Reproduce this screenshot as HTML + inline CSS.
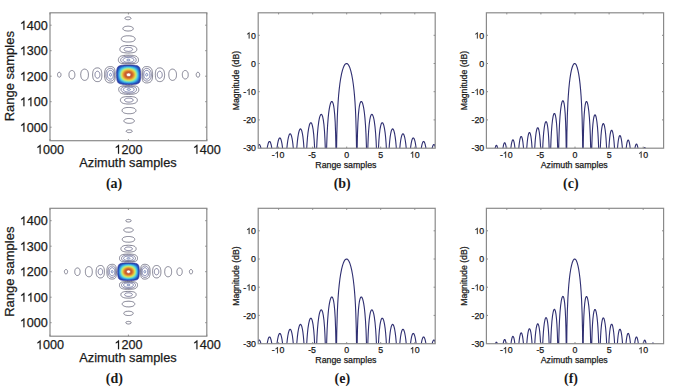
<!DOCTYPE html>
<html><head><meta charset="utf-8"><title>Figure</title>
<style>
html,body{margin:0;padding:0;background:#fff;}
body{width:685px;height:387px;overflow:hidden;}
svg{display:block;font-family:"Liberation Sans",sans-serif;}
.t{stroke:#1a1a1a;stroke-width:0.25px;}
.t path{stroke-width:0.12px;vector-effect:non-scaling-stroke;}
</style></head><body>
<svg width="685" height="387" viewBox="0 0 685 387">
<rect width="685" height="387" fill="#fff"/>
<g fill="none">
<path d="M133.4 84.4 132 84.5 130.6 84.5 129 84.5 127.4 84.5 126 84.5 124.6 84.4 123.4 84.4 122.4 84.3 121.6 84.1 120.8 84 120.2 83.8 119.6 83.6 119.2 83.5 118.8 83.2 118.4 82.9 118.1 82.6 117.9 82.4 117.7 82 117.6 81.8 117.4 81.4 117.3 81 117.1 80.6 117 80 116.9 79.4 116.8 78.2 116.6 76.6 116.6 74.8 116.6 73.2 116.6 71.8 116.7 70.6 116.9 69.6 117 69 117.1 68.6 117.3 68 117.5 67.6 117.6 67.3 117.8 67 118 66.8 118.2 66.6 118.4 66.4 118.7 66.2 119 66 119.4 65.9 119.8 65.7 120.2 65.6 120.8 65.5 121.4 65.3 122.2 65.2 123 65.2 124 65.1 126 65 128.6 65 131 65 132.8 65.1 134.2 65.2 135 65.3 135.6 65.4 136.2 65.5 136.6 65.5 137 65.7 137.4 65.8 137.8 65.9 138.2 66.2 138.6 66.4 138.8 66.6 139 66.8 139.2 67 139.5 67.4 139.7 67.8 139.9 68.4 140.1 69 140.2 69.6 140.3 70.4 140.5 71.4 140.5 72.4 140.6 73.8 140.6 75.2 140.6 76.6 140.6 77.8 140.5 78.8 140.3 79.8 140.2 80.6 140 81.2 139.9 81.6 139.7 82 139.4 82.4 139.3 82.6 139.1 82.8 138.8 83.1 138.4 83.3 138 83.6 137.6 83.7 137.2 83.8 136.8 84 136.2 84.1 135.6 84.2 135 84.3 134.2 84.3 133.4 84.4Z" fill="#2240a8"/>
<path d="M131 84 129.8 84 128.6 84.1 127.4 84 126.2 84 125.2 83.9 124.2 83.8 123.2 83.7 122.4 83.6 121.6 83.4 121 83.2 120.4 82.9 120 82.7 119.6 82.4 119.2 82.1 118.9 81.8 118.6 81.4 118.4 81.1 118.2 80.8 118 80.4 117.9 80 117.8 79.6 117.6 79 117.4 78 117.3 76.8 117.2 75.4 117.2 74 117.2 72.6 117.3 71.6 117.5 70.6 117.7 69.8 117.8 69.4 118 69 118.3 68.4 118.5 68 118.7 67.8 119 67.4 119.3 67.2 119.6 67 120 66.7 120.4 66.5 120.8 66.4 121.4 66.2 121.8 66 122.4 65.9 123 65.8 123.8 65.7 124.6 65.6 125.6 65.5 126.6 65.5 127.6 65.5 129.6 65.5 130.6 65.5 131.6 65.5 133 65.7 134.2 65.8 135.2 66 135.8 66.2 136.2 66.3 136.6 66.5 137 66.7 137.4 66.9 137.6 67.1 138 67.4 138.2 67.6 138.4 67.8 138.7 68.2 138.9 68.6 139.2 69.2 139.4 69.8 139.6 70.6 139.8 71.4 139.9 72.2 140 73.2 140 74.2 140 75.4 140 76.4 139.9 77.4 139.8 78.2 139.7 79 139.5 79.6 139.4 80.2 139.1 80.8 138.9 81.2 138.6 81.6 138.4 81.9 138 82.2 137.8 82.4 137.4 82.7 137 82.9 136.6 83.1 136 83.3 135.4 83.5 134.8 83.6 134.2 83.7 133.6 83.8 132.8 83.9 132 83.9 131 84Z" fill="#2558bd"/>
<path d="M129.2 83.6 128 83.6 127 83.6 126 83.5 125 83.4 124.2 83.3 123.4 83.1 122.6 82.9 122 82.8 121.4 82.5 121 82.3 120.4 82 120 81.7 119.7 81.4 119.4 81 119 80.5 118.7 80 118.5 79.6 118.4 79.2 118.1 78.4 118.1 78 117.9 77.4 117.9 76.8 117.8 76.2 117.7 75 117.7 73.8 117.8 73.2 117.8 72.6 118 71.6 118.1 70.8 118.3 70.4 118.4 70 118.7 69.4 118.8 69.1 119 68.8 119.2 68.5 119.4 68.3 119.7 68 119.9 67.8 120.4 67.4 121 67.1 121.4 66.9 122 66.7 122.4 66.6 123 66.4 123.6 66.3 124.4 66.1 125 66.1 125.8 66 126.6 65.9 127.6 65.9 128.4 65.9 129.4 65.9 131 66 131.8 66.1 132.6 66.1 133.2 66.2 133.8 66.4 134.4 66.5 134.8 66.6 135.2 66.7 135.6 66.9 136 67.1 136.4 67.3 136.8 67.5 137 67.7 137.4 68 137.6 68.2 137.8 68.4 138.1 68.8 138.3 69.2 138.5 69.6 138.8 70.2 139 70.8 139.1 71.4 139.3 72.2 139.4 73 139.4 73.8 139.5 74.6 139.5 75.6 139.4 76.4 139.3 77.2 139.2 78 139.1 78.6 138.9 79.2 138.7 79.8 138.5 80.2 138.2 80.7 138 81 137.6 81.4 137.4 81.6 137 81.9 136.6 82.2 136.2 82.4 135.8 82.6 135.2 82.8 134.6 83 134 83.1 133.4 83.3 132.6 83.4 131.8 83.5 131 83.5 130.2 83.6 129.2 83.6Z" fill="#2a76d0"/>
<path d="M131.6 83 130.6 83.1 129.6 83.2 128.4 83.2 127.4 83.1 126.4 83.1 125.4 83 124.6 82.9 123.8 82.7 123 82.5 122.4 82.3 121.8 82 121.4 81.8 121.1 81.6 120.8 81.4 120.4 81.1 120 80.6 119.7 80.2 119.3 79.6 119.1 79.2 118.9 78.8 118.8 78.4 118.7 78 118.5 77.2 118.3 76.2 118.3 75.2 118.3 74.2 118.3 73.2 118.4 72.2 118.6 71.4 118.7 71 118.9 70.6 119.1 70 119.5 69.4 119.8 68.9 120 68.7 120.3 68.4 120.8 68 121.2 67.7 121.6 67.5 122 67.3 122.4 67.2 122.8 67 123.4 66.9 124 66.7 124.6 66.6 125.2 66.5 126 66.4 127.4 66.3 128.2 66.3 129 66.3 130.4 66.4 131.6 66.5 132.2 66.6 132.8 66.7 133.8 66.9 134.4 67.1 134.8 67.2 135.2 67.4 135.6 67.6 136 67.8 136.4 68.1 136.7 68.4 137 68.6 137.2 68.9 137.5 69.2 137.7 69.6 138 70.1 138.2 70.6 138.4 71.2 138.6 71.8 138.7 72.4 138.8 73 138.9 73.8 138.9 74.6 138.9 75.4 138.9 76.2 138.8 76.8 138.7 77.4 138.6 78 138.4 78.6 138.2 79.2 138 79.6 137.8 80 137.5 80.4 137.2 80.8 137 81 136.6 81.3 136.2 81.6 135.9 81.8 135.6 82 135 82.2 134.6 82.4 134 82.6 133.4 82.7 132.8 82.8 131.6 83Z" fill="#3294dd"/>
<path d="M131.2 82.6 130.4 82.7 129.4 82.7 128.4 82.8 127.6 82.7 126.6 82.7 125.8 82.6 125 82.4 124.2 82.3 123.4 82 122.8 81.8 122.3 81.6 121.8 81.3 121.3 81 120.9 80.6 120.5 80.2 120.1 79.8 119.8 79.2 119.5 78.6 119.3 78.2 119.2 77.8 119 77 118.9 76.2 118.8 75.2 118.8 74.2 118.8 73.2 119 72.4 119.2 71.6 119.3 71.2 119.4 70.8 119.7 70.2 120 69.8 120.1 69.6 120.4 69.2 120.8 68.8 121.1 68.6 121.4 68.3 121.8 68.1 122.2 67.9 122.6 67.7 123 67.5 123.4 67.4 124 67.2 124.6 67.1 125.2 67 125.8 66.9 126.4 66.8 127 66.8 127.8 66.8 128.4 66.7 129.2 66.7 130 66.8 130.6 66.8 131.2 66.9 131.8 67 132.8 67.2 133.4 67.3 133.8 67.5 134.2 67.6 134.7 67.8 135 68 135.4 68.2 135.7 68.4 136 68.6 136.2 68.8 136.6 69.2 136.8 69.4 137.1 69.8 137.4 70.2 137.7 70.8 137.8 71.2 138 71.8 138.2 72.4 138.3 73 138.4 73.6 138.4 74.2 138.4 75 138.4 75.6 138.4 76.2 138.3 76.8 138.2 77.4 138 78 137.8 78.6 137.6 79 137.4 79.4 137.2 79.7 137 80 136.7 80.4 136.4 80.7 136 81 135.7 81.2 135.4 81.4 135 81.6 134.6 81.8 134.1 82 133.6 82.2 133 82.3 132.4 82.4 131.8 82.5 131.2 82.6Z" fill="#40b2e5"/>
<path d="M131 82.2 130.2 82.3 129.2 82.3 128.2 82.3 127.4 82.3 126.6 82.2 125.8 82.1 125 82 124.3 81.8 123.6 81.6 123 81.3 122.4 81 122 80.8 121.5 80.4 121.1 80 120.7 79.6 120.4 79.2 120.1 78.6 119.8 78 119.6 77.4 119.4 76.6 119.3 75.8 119.3 75 119.3 74.4 119.3 74 119.4 73.2 119.5 72.4 119.7 71.8 119.9 71.2 120.1 70.8 120.2 70.6 120.6 70 120.8 69.7 121 69.5 121.3 69.2 121.5 69 122 68.6 122.4 68.4 122.8 68.2 123.2 68 123.6 67.9 124 67.7 124.6 67.6 125.6 67.4 126.2 67.3 126.8 67.2 128 67.2 128.8 67.1 129.4 67.2 130.6 67.3 131.6 67.4 132.6 67.6 133.2 67.8 133.6 67.9 134 68.1 134.4 68.3 135 68.6 135.3 68.8 135.6 69 136 69.4 136.2 69.6 136.4 69.8 136.7 70.2 136.9 70.6 137.1 71 137.3 71.4 137.5 72 137.6 72.4 137.8 73 137.9 73.6 137.9 74.2 137.9 74.8 137.9 75.4 137.9 76 137.8 76.6 137.7 77.2 137.6 77.6 137.4 78.1 137.2 78.6 137 79 136.7 79.4 136.4 79.8 136.2 80 136 80.2 135.6 80.6 135.3 80.8 135 81 134.6 81.2 134.2 81.4 133.7 81.6 133.2 81.8 132.8 81.9 132.2 82 131.6 82.1 131 82.2Z" fill="#54c9dd"/>
<path d="M130.8 81.8 130 81.9 129.2 81.9 128.4 82 127.6 81.9 126.8 81.9 126 81.7 125.2 81.6 124.6 81.4 124 81.2 123.4 81 122.8 80.7 122.4 80.4 122 80.1 121.6 79.7 121.2 79.3 120.8 78.8 120.5 78.2 120.3 77.6 120.1 77 120 76.6 119.9 76.2 119.8 75.4 119.7 74.6 119.8 73.8 119.9 73.2 120 72.6 120.2 72 120.4 71.4 120.7 70.8 121 70.3 121.2 70.1 121.5 69.8 121.9 69.4 122.4 69 122.8 68.8 123.2 68.6 123.6 68.4 124 68.2 124.8 68 125.2 67.9 125.8 67.8 126.8 67.6 127.4 67.6 128 67.6 128.6 67.5 129.2 67.6 129.8 67.6 130.4 67.6 131.4 67.8 132 67.9 132.4 68 133.2 68.3 133.6 68.4 134 68.6 134.3 68.8 134.7 69 135.2 69.4 135.4 69.6 135.8 70 136 70.2 136.3 70.6 136.5 71 136.7 71.4 136.9 71.8 137.1 72.2 137.2 72.6 137.3 73.2 137.4 73.6 137.4 74.2 137.5 74.8 137.4 75.4 137.4 76 137.3 76.4 137.2 77 137.1 77.4 136.9 77.8 136.8 78.2 136.6 78.6 136.3 79 136 79.4 135.8 79.6 135.6 79.8 135.2 80.2 134.9 80.4 134.6 80.6 134.2 80.8 133.8 81 133.4 81.2 133 81.3 132.6 81.5 132 81.6 131.4 81.7 130.8 81.8Z" fill="#6cdaca"/>
<path d="M130.8 81.4 130.2 81.5 129.4 81.5 128.6 81.6 127.8 81.5 127 81.5 126.4 81.4 125.6 81.2 125 81.1 124.4 80.9 123.8 80.6 123.4 80.4 122.8 80.1 122.4 79.8 122 79.4 121.6 79 121.3 78.6 121 78 120.7 77.4 120.5 76.8 120.4 76.2 120.3 75.6 120.2 74.8 120.3 74 120.3 73.4 120.5 72.8 120.6 72.2 120.9 71.6 121.2 71 121.4 70.7 121.6 70.4 122 70 122.4 69.7 122.8 69.4 123.2 69.1 123.6 68.9 124.3 68.6 124.8 68.4 125.2 68.3 125.6 68.2 126.2 68.1 127.2 68 128.2 67.9 128.8 67.9 129.4 68 130.4 68.1 131.4 68.2 132.2 68.4 133 68.7 133.4 68.9 133.8 69.1 134.4 69.4 134.6 69.6 135 69.9 135.3 70.2 135.5 70.4 135.6 70.6 135.9 71 136.2 71.4 136.4 71.8 136.5 72.2 136.6 72.6 136.8 73 136.8 73.4 136.9 73.8 137 74.4 137 75 136.9 75.4 136.9 76 136.8 76.4 136.7 76.8 136.6 77.2 136.5 77.6 136.3 78 135.9 78.6 135.6 79 135.4 79.3 135.1 79.6 134.9 79.8 134.6 80 134.2 80.3 133.8 80.5 133.4 80.7 133 80.9 132.6 81 131.8 81.2 131.4 81.3 130.8 81.4Z" fill="#8ee4a8"/>
<path d="M130.6 81 130 81.1 129.2 81.2 128.4 81.2 127.8 81.1 127 81.1 126.4 81 125.8 80.8 125.2 80.7 124.6 80.5 124.2 80.3 123.6 80 123.2 79.7 122.8 79.4 122.3 79 122 78.6 121.7 78.2 121.4 77.7 121.2 77.2 121 76.6 120.8 76 120.8 75.4 120.7 75 120.7 74.6 120.8 74 120.8 73.4 121 72.8 121.2 72.2 121.4 71.7 121.7 71.2 122 70.8 122.4 70.3 122.8 70 123.3 69.6 123.7 69.4 124 69.2 124.4 69.1 124.8 68.9 125.6 68.7 126.4 68.5 127.4 68.4 128.4 68.3 129.4 68.4 130.4 68.5 131 68.6 131.4 68.7 132.2 68.9 132.6 69 133 69.2 133.6 69.5 134.2 69.9 134.6 70.2 134.8 70.4 135.2 70.9 135.6 71.4 135.9 72 136 72.4 136.2 72.9 136.3 73.4 136.4 73.8 136.5 74.2 136.5 74.6 136.5 75 136.5 75.4 136.4 75.8 136.3 76.2 136.3 76.6 136.1 77 136 77.4 135.8 77.8 135.6 78.2 135.4 78.4 135.2 78.7 135 79 134.8 79.2 134.4 79.5 134 79.8 133.8 79.9 133.2 80.3 132.8 80.4 132.4 80.6 131.6 80.8 131.2 80.9 130.6 81Z" fill="#b0ea86"/>
<path d="M130.6 80.6 130 80.7 129.4 80.7 128.8 80.8 128 80.7 127.4 80.7 126.8 80.6 126.2 80.5 125.6 80.3 125.2 80.2 124.6 80 124 79.7 123.6 79.4 123.2 79.1 122.8 78.8 122.5 78.4 122.2 78 121.9 77.6 121.7 77 121.5 76.6 121.3 76 121.3 75.4 121.2 74.8 121.2 74.2 121.3 73.6 121.4 73 121.6 72.6 121.8 72 122 71.6 122.4 71.1 122.8 70.7 123.2 70.3 123.6 70 123.9 69.8 124.3 69.6 125 69.3 125.4 69.2 125.8 69.1 126.6 68.9 127.4 68.8 127.8 68.8 128.4 68.7 129.4 68.8 130.2 68.9 131 69 131.8 69.2 132.2 69.4 132.6 69.5 133.1 69.8 133.5 70 133.8 70.2 134.2 70.6 134.6 71 134.8 71.2 135.1 71.6 135.2 71.8 135.4 72.2 135.6 72.6 135.7 73 135.9 73.6 135.9 74 136 74.4 136 74.8 136 75.2 135.9 75.6 135.9 76 135.8 76.4 135.7 76.8 135.5 77.2 135.4 77.5 135.1 78 134.8 78.4 134.6 78.6 134.2 79 134 79.2 133.6 79.5 133 79.8 132.6 80 132.2 80.2 131.8 80.3 131.4 80.4 130.6 80.6Z" fill="#cde469"/>
<path d="M130.4 80.2 129.8 80.3 129.2 80.3 128.6 80.4 128 80.3 127.4 80.3 126.8 80.2 126.2 80.1 125.6 79.9 125 79.7 124.6 79.5 124.2 79.2 123.8 79 123.4 78.6 123.2 78.4 122.8 78 122.5 77.6 122.3 77.2 122 76.6 121.9 76.2 121.8 75.7 121.7 75.2 121.7 74.6 121.8 74 121.8 73.6 122 73 122.1 72.6 122.3 72.2 122.6 71.7 122.8 71.4 123.2 71 123.6 70.6 124 70.3 124.6 70 125.2 69.7 125.6 69.6 126 69.5 126.8 69.3 127.6 69.2 128.4 69.1 129.2 69.2 130 69.2 130.8 69.4 131.6 69.6 132.2 69.8 132.8 70.1 133.2 70.4 133.4 70.5 133.8 70.9 134.2 71.3 134.4 71.5 134.6 71.8 134.8 72.1 134.9 72.4 135.2 73 135.4 73.6 135.4 74 135.5 74.4 135.5 74.8 135.5 75.2 135.4 75.8 135.3 76.2 135.2 76.6 135 77.2 134.8 77.5 134.6 77.8 134.4 78.1 134.2 78.3 133.9 78.6 133.7 78.8 133.2 79.2 132.6 79.5 131.9 79.8 131.2 80 130.4 80.2Z" fill="#dfd652"/>
<path d="M130.2 79.8 129.8 79.9 129.2 79.9 128.6 79.9 128 79.9 127.4 79.9 126.8 79.8 126.2 79.6 125.8 79.5 125.4 79.3 125 79.1 124.6 78.9 124.1 78.6 123.8 78.3 123.5 78 123.2 77.7 123 77.4 122.8 77 122.6 76.6 122.4 76 122.3 75.6 122.2 75.2 122.2 74.6 122.3 74 122.3 73.6 122.5 73 122.7 72.6 122.9 72.2 123.2 71.8 123.5 71.4 123.8 71.1 124.2 70.8 124.5 70.6 125 70.3 125.6 70.1 126.2 69.9 126.6 69.8 127 69.7 127.7 69.6 128.4 69.6 129.2 69.6 130 69.7 130.6 69.8 131.4 70 132 70.3 132.6 70.6 132.9 70.8 133.2 71 133.6 71.4 134 71.8 134.2 72.2 134.4 72.5 134.6 72.8 134.8 73.4 134.9 74 135 74.6 135 75 134.9 75.4 134.8 76 134.6 76.6 134.4 77.1 134.1 77.6 133.8 78 133.4 78.4 133.1 78.6 132.8 78.8 132.5 79 132.2 79.2 131.6 79.4 131 79.6 130.6 79.7 130.2 79.8Z" fill="#e6be40"/>
<path d="M129.8 79.4 129.4 79.5 128.8 79.5 128.2 79.5 127.8 79.5 127.3 79.4 126.8 79.3 126.4 79.2 125.8 79 125.4 78.8 125 78.6 124.6 78.3 124.2 78 124 77.8 123.7 77.4 123.4 77 123.3 76.8 123.1 76.4 122.9 76 122.8 75.6 122.8 75.2 122.8 74.6 122.8 74.2 122.8 73.8 122.9 73.4 123.1 73 123.3 72.6 123.5 72.2 123.8 71.9 124 71.6 124.4 71.3 124.8 71 125.2 70.8 125.8 70.5 126.4 70.3 127 70.1 127.6 70 128.2 70 129 70 129.8 70.1 130.4 70.2 131 70.4 131.6 70.6 132.2 70.9 132.6 71.2 133 71.5 133.4 71.9 133.6 72.2 133.7 72.4 134 72.8 134.2 73.3 134.3 73.8 134.4 74.4 134.4 75 134.4 75.6 134.2 76.2 134 76.7 133.7 77.2 133.4 77.6 133.1 78 132.6 78.4 132.2 78.6 131.6 78.9 131 79.2 130.4 79.3 129.8 79.4Z" fill="#e5a537"/>
<path d="M129.4 79 129 79 128.4 79 128 79 127.6 79 127 78.9 126.6 78.8 126.2 78.6 125.8 78.4 125.4 78.2 125.2 78.1 124.8 77.8 124.6 77.6 124.4 77.4 124 77 123.8 76.6 123.7 76.4 123.5 76 123.4 75.6 123.3 75.2 123.3 74.8 123.3 74.4 123.4 74 123.5 73.6 123.6 73.2 123.8 72.8 123.9 72.6 124.2 72.2 124.4 72 124.8 71.6 125.1 71.4 125.4 71.2 125.8 71 126.4 70.8 126.8 70.7 127.4 70.5 128 70.5 128.6 70.4 129.2 70.5 129.8 70.6 130.4 70.7 130.8 70.8 131.4 71.1 131.8 71.3 132.3 71.6 132.5 71.8 132.7 72 133 72.3 133.2 72.6 133.3 72.8 133.5 73.2 133.7 73.6 133.8 74 133.8 74.2 133.9 74.6 133.9 75 133.9 75.2 133.8 75.6 133.7 76 133.6 76.2 133.4 76.6 133.2 77 132.9 77.4 132.5 77.8 132.2 78 132 78.2 131.6 78.4 131.1 78.6 130.6 78.8 130 78.9 129.4 79Z" fill="#e08b32"/>
<path d="M130 78.4 129.6 78.5 129.2 78.5 128.8 78.6 128.4 78.6 128 78.5 127.6 78.5 127.2 78.4 126.8 78.3 126.4 78.1 126.1 78 125.7 77.8 125.4 77.6 125.2 77.4 125 77.2 124.8 77 124.5 76.6 124.4 76.4 124.2 76 124 75.6 124 75.4 123.9 75 123.9 74.6 124 74.2 124 74 124.1 73.6 124.2 73.4 124.4 73 124.5 72.8 124.8 72.4 125 72.2 125.2 72 125.5 71.8 126 71.5 126.4 71.3 126.8 71.2 127.4 71 127.8 71 128.4 70.9 129 71 129.4 71 130 71.1 130.4 71.2 130.9 71.4 131.3 71.6 131.6 71.8 132 72.1 132.3 72.4 132.7 72.8 132.9 73.2 133.1 73.6 133.2 74 133.3 74.4 133.3 74.6 133.3 75 133.2 75.4 133.1 75.8 133 76.2 132.8 76.6 132.5 77 132.2 77.3 131.8 77.6 131.4 77.9 131 78.1 130.6 78.2 130 78.4Z" fill="#d5732f"/>
<path d="M129 78 128.6 78 128.2 78 127.6 77.9 127.2 77.8 126.8 77.7 126.6 77.6 126.2 77.4 125.9 77.2 125.7 77 125.4 76.8 125.3 76.6 125 76.2 124.8 75.8 124.7 75.6 124.7 75.4 124.6 75 124.6 74.6 124.6 74.4 124.7 74 124.7 73.8 124.8 73.6 125 73.2 125.2 72.9 125.5 72.6 125.7 72.4 126 72.2 126.3 72 126.6 71.9 126.8 71.8 127.2 71.7 127.6 71.6 128 71.5 128.4 71.5 129 71.5 129.4 71.5 129.8 71.6 130.2 71.7 130.6 71.9 130.8 72 131.2 72.2 131.6 72.6 131.8 72.8 132 73 132.3 73.4 132.4 73.7 132.5 74 132.6 74.4 132.6 74.6 132.6 75 132.5 75.4 132.4 75.8 132.2 76.2 132 76.6 131.8 76.8 131.6 77 131.2 77.3 131 77.4 130.6 77.6 130.2 77.8 129.8 77.9 129.4 78 129 78Z" fill="#ca612e"/>
<path d="M129.8 77.2 129.4 77.3 128.8 77.4 128.2 77.4 127.6 77.3 127.4 77.2 127 77.1 126.6 76.8 126.2 76.5 126.1 76.4 125.9 76.2 125.7 76 125.6 75.8 125.5 75.4 125.4 75 125.4 74.6 125.4 74.4 125.5 74 125.5 73.8 125.6 73.6 125.8 73.4 125.9 73.2 126.1 73 126.4 72.8 126.7 72.6 127 72.4 127.2 72.3 127.6 72.2 127.8 72.2 128.2 72.1 128.6 72.1 129 72.1 129.4 72.2 129.8 72.3 130.1 72.4 130.4 72.5 130.8 72.8 131 73 131.2 73.2 131.4 73.4 131.5 73.6 131.6 73.8 131.8 74.2 131.8 74.4 131.9 74.8 131.8 75 131.8 75.3 131.7 75.6 131.6 75.8 131.4 76.1 131.2 76.4 131 76.6 130.7 76.8 130.4 77 130 77.2 129.8 77.2Z" fill="#c25931"/>
<path d="M128.8 76.6 128.4 76.6 128 76.5 127.6 76.4 127.2 76.2 126.9 76 126.7 75.8 126.6 75.6 126.5 75.4 126.4 75.2 126.3 75 126.3 74.8 126.3 74.6 126.4 74.4 126.4 74.2 126.5 74 126.6 73.8 126.8 73.6 127 73.4 127.2 73.3 127.4 73.2 127.8 73 128.2 72.9 128.4 72.9 128.8 72.9 129 72.9 129.3 73 129.6 73.1 129.8 73.2 130.2 73.4 130.4 73.6 130.6 73.8 130.7 74 130.8 74.2 130.8 74.4 130.9 74.6 130.9 74.8 130.9 75 130.8 75.2 130.7 75.4 130.6 75.6 130.5 75.8 130.4 75.9 130.2 76.1 130 76.2 129.7 76.4 129.4 76.5 129.2 76.5 128.8 76.6Z" fill="#ffffff"/>
<path d="M133.4 84.4 132 84.5 130.6 84.5 129 84.5 127.4 84.5 126 84.5 124.6 84.4 123.4 84.4 122.4 84.3 121.6 84.1 120.8 84 120.2 83.8 119.6 83.6 119.2 83.5 118.8 83.2 118.4 82.9 118.1 82.6 117.9 82.4 117.7 82 117.6 81.8 117.4 81.4 117.3 81 117.1 80.6 117 80 116.9 79.4 116.8 78.2 116.6 76.6 116.6 74.8 116.6 73.2 116.6 71.8 116.7 70.6 116.9 69.6 117 69 117.1 68.6 117.3 68 117.5 67.6 117.6 67.3 117.8 67 118 66.8 118.2 66.6 118.4 66.4 118.7 66.2 119 66 119.4 65.9 119.8 65.7 120.2 65.6 120.8 65.5 121.4 65.3 122.2 65.2 123 65.2 124 65.1 126 65 128.6 65 131 65 132.8 65.1 134.2 65.2 135 65.3 135.6 65.4 136.2 65.5 136.6 65.5 137 65.7 137.4 65.8 137.8 65.9 138.2 66.2 138.6 66.4 138.8 66.6 139 66.8 139.2 67 139.5 67.4 139.7 67.8 139.9 68.4 140.1 69 140.2 69.6 140.3 70.4 140.5 71.4 140.5 72.4 140.6 73.8 140.6 75.2 140.6 76.6 140.6 77.8 140.5 78.8 140.3 79.8 140.2 80.6 140 81.2 139.9 81.6 139.7 82 139.4 82.4 139.3 82.6 139.1 82.8 138.8 83.1 138.4 83.3 138 83.6 137.6 83.7 137.2 83.8 136.8 84 136.2 84.1 135.6 84.2 135 84.3 134.2 84.3 133.4 84.4Z" fill="none" stroke="#3a40a0" stroke-width="0.8"/>
<path d="M128.8 76.6 128.4 76.6 128 76.5 127.6 76.4 127.2 76.2 126.9 76 126.7 75.8 126.6 75.6 126.5 75.4 126.4 75.2 126.3 75 126.3 74.8 126.3 74.6 126.4 74.4 126.4 74.2 126.5 74 126.6 73.8 126.8 73.6 127 73.4 127.2 73.3 127.4 73.2 127.8 73 128.2 72.9 128.4 72.9 128.8 72.9 129 72.9 129.3 73 129.6 73.1 129.8 73.2 130.2 73.4 130.4 73.6 130.6 73.8 130.7 74 130.8 74.2 130.8 74.4 130.9 74.6 130.9 74.8 130.9 75 130.8 75.2 130.7 75.4 130.6 75.6 130.5 75.8 130.4 75.9 130.2 76.1 130 76.2 129.7 76.4 129.4 76.5 129.2 76.5 128.8 76.6Z" fill="none" stroke="#c2603a" stroke-width="0.9"/>
<g fill="none" stroke="#55556e" stroke-width="0.75">
<path d="M129 19.6 128.6 19.7 128.2 19.7 127.8 19.7 127.4 19.7 126.8 19.6 126.4 19.5 126 19.4 125.6 19.2 125.3 19 125.1 18.8 125 18.6 125 18.4 124.9 18.2 125 18 125.1 17.8 125.3 17.6 125.6 17.4 125.8 17.3 126 17.2 126.4 17.1 126.8 17 127.2 16.9 127.6 16.9 128.2 16.9 128.6 16.9 129 16.9 129.4 17 129.8 17.1 130 17.2 130.4 17.4 130.6 17.6 130.8 17.8 131 18 131 18.2 131 18.4 130.9 18.6 130.8 18.8 130.6 19 130.3 19.2 130.2 19.3 129.9 19.4 129.6 19.5 129 19.6Z" stroke="#58586e"/>
<path d="M130.2 30.8 129.6 30.9 128.8 31 128 31 127.2 31 126.4 30.9 125.8 30.8 125 30.6 124.6 30.5 124 30.2 123.7 30 123.4 29.7 123.3 29.6 123.1 29.4 123 29.2 122.9 29 122.9 28.8 122.9 28.6 122.9 28.4 122.9 28.2 123 28 123.1 27.8 123.3 27.6 123.6 27.3 123.7 27.2 124 27 124.5 26.8 125 26.6 125.6 26.4 126 26.4 126.6 26.3 127.4 26.2 128.2 26.2 128.8 26.2 129.6 26.3 130.2 26.4 130.8 26.5 131.4 26.7 131.8 26.9 132.2 27.1 132.4 27.2 132.6 27.3 132.9 27.6 133 27.8 133.2 28 133.2 28.2 133.3 28.4 133.3 28.6 133.3 28.8 133.3 29 133.2 29.2 133.1 29.4 132.9 29.6 132.7 29.8 132.6 29.9 132.2 30.2 131.8 30.4 131.2 30.6 130.6 30.8 130.2 30.8Z" stroke="#58586e"/>
<path d="M129.4 42 128.4 42 127.4 42 126.4 42 125.6 41.9 124.8 41.7 124 41.5 123.4 41.4 123 41.2 122.8 41.1 122.3 40.8 122 40.5 121.7 40.2 121.6 40 121.5 39.8 121.4 39.6 121.3 39.4 121.3 39.2 121.3 39 121.3 38.8 121.3 38.6 121.4 38.4 121.5 38.2 121.5 38 121.7 37.8 121.8 37.6 122 37.4 122.2 37.2 122.4 37.1 122.8 36.8 123 36.7 123.2 36.6 123.7 36.4 124.4 36.2 125 36.1 125.4 36 126.4 35.8 127 35.8 127.6 35.8 128.8 35.8 129.4 35.8 130 35.9 131.1 36 132 36.2 132.4 36.3 132.8 36.5 133.2 36.6 133.6 36.8 133.9 37 134.2 37.2 134.4 37.4 134.6 37.6 134.7 37.8 134.8 38 134.9 38.2 135 38.4 135.1 38.6 135.1 38.8 135.1 39 135.1 39.2 135.1 39.4 135 39.6 135 39.8 134.9 40 134.7 40.2 134.6 40.4 134.4 40.6 134 40.9 133.8 41 133.4 41.2 132.9 41.4 132.4 41.6 131.8 41.7 131 41.9 130.2 41.9 129.4 42Z" stroke="#58586e"/>
<path d="M131.8 52.8 130.4 52.9 129 53 127.6 53 126.2 52.9 124.9 52.8 123.8 52.6 123.4 52.6 122.8 52.4 122.1 52.2 121.6 52 121.3 51.8 121 51.6 120.7 51.4 120.5 51.2 120.4 51 120.2 50.7 120 50.4 120 50.2 119.9 50 119.9 49.6 119.9 49.4 119.9 49 120 48.6 120 48.4 120.2 48 120.3 47.8 120.5 47.6 120.6 47.4 120.8 47.2 121.1 47 121.3 46.8 121.6 46.6 122.2 46.3 122.6 46.2 123 46.1 123.8 45.9 124.6 45.7 125.8 45.6 127 45.5 128.4 45.5 129.8 45.5 131 45.6 132.2 45.8 133.2 46 134 46.2 134.4 46.4 134.8 46.5 135.2 46.8 135.4 46.9 135.8 47.2 136 47.4 136.1 47.6 136.3 47.8 136.4 48 136.6 48.4 136.7 48.6 136.8 49 136.8 49.4 136.8 49.8 136.7 50.2 136.6 50.4 136.5 50.6 136.4 50.8 136.2 51.1 136 51.3 135.8 51.5 135.6 51.7 135.4 51.8 135 52 134.4 52.3 134 52.4 133.6 52.5 132.8 52.7 131.8 52.8Z" stroke="#58586e"/>
<path d="M131.6 63.8 129.8 63.9 127.8 63.9 126 63.8 124.4 63.8 123 63.6 122 63.5 121.6 63.4 121 63.3 120.6 63.1 120.3 63 119.9 62.8 119.6 62.6 119.3 62.4 119.2 62.3 119 62 118.9 61.8 118.7 61.6 118.6 61.2 118.5 61 118.4 60.6 118.4 60.2 118.4 59.8 118.4 59.4 118.5 59 118.6 58.6 118.8 58.2 119 57.8 119.1 57.6 119.4 57.2 119.6 57 119.8 56.8 120.1 56.6 120.4 56.4 120.8 56.2 121.2 56.1 121.6 55.9 122 55.8 122.6 55.7 123.2 55.5 123.8 55.5 125.2 55.3 126.2 55.2 127.2 55.2 128.2 55.2 129.2 55.2 130.2 55.2 131.2 55.3 132 55.3 132.8 55.4 133.6 55.6 134.2 55.7 134.8 55.8 135.4 56 135.8 56.1 136.2 56.3 136.6 56.5 137 56.8 137.2 57 137.4 57.2 137.6 57.4 137.9 57.8 138 58 138.2 58.4 138.3 58.8 138.4 59.2 138.5 59.6 138.5 60 138.5 60.4 138.4 60.8 138.3 61.2 138.3 61.4 138.1 61.8 137.9 62 137.8 62.2 137.6 62.4 137.4 62.6 137.2 62.7 137 62.8 136.7 63 136 63.2 135.2 63.4 134.2 63.6 133 63.7 131.6 63.8Z" stroke="#58586e"/>
<path d="M111.8 82.8 111.2 82.9 110.6 82.9 109.8 82.9 109.2 82.8 108.6 82.7 108 82.5 107.4 82.2 107 82 106.6 81.7 106.4 81.5 106.2 81.3 106 81.1 105.8 80.8 105.6 80.4 105.4 80 105.2 79.4 105 78.7 104.9 78 104.7 77 104.6 75.8 104.6 74.6 104.6 73.4 104.7 72.2 104.8 71.2 105 70.4 105.1 70 105.3 69.6 105.5 69 105.8 68.5 106 68.3 106.2 68 106.6 67.7 107 67.4 107.4 67.2 107.6 67.1 108.2 66.9 108.6 66.8 109 66.7 109.6 66.6 110.2 66.6 110.8 66.6 111.4 66.6 112 66.7 112.4 66.9 112.8 67 113.2 67.2 113.5 67.4 113.8 67.7 114 68 114.3 68.4 114.5 68.8 114.6 69.2 114.8 69.8 114.9 70.4 115.1 71.4 115.2 72.8 115.2 74.2 115.2 75.6 115.2 77 115.1 78.2 115 79.1 114.8 80 114.6 80.6 114.4 81.1 114.2 81.4 114.1 81.6 113.8 81.9 113.6 82.1 113.4 82.3 113 82.5 112.7 82.6 112.4 82.7 111.8 82.8Z" stroke="#58586e"/>
<path d="M148.2 82.8 147.6 82.9 147 82.9 146.4 82.9 145.8 82.9 145.2 82.8 144.8 82.6 144.4 82.5 144 82.3 143.6 82 143.4 81.8 143.1 81.4 142.9 81 142.7 80.6 142.6 80.2 142.4 79.6 142.3 79 142.1 78 142 76.6 142 75.2 142 73.8 142 72.4 142.1 71.2 142.2 70.2 142.4 69.4 142.6 68.8 142.8 68.4 143 68 143.2 67.8 143.4 67.6 143.6 67.4 143.8 67.2 144.2 67 144.4 66.9 144.8 66.8 145.4 66.7 146 66.6 146.6 66.6 147.4 66.6 148 66.7 148.6 66.8 149.2 67 149.8 67.3 150.2 67.5 150.6 67.8 151 68.2 151.3 68.6 151.6 69 151.8 69.5 152 70.1 152.2 70.8 152.3 71.4 152.5 72.4 152.6 73.6 152.6 74.8 152.6 76 152.5 77.2 152.4 78.2 152.2 79 152.1 79.4 152 79.8 151.7 80.4 151.6 80.7 151.4 81 151.2 81.2 151 81.5 150.6 81.8 150.2 82.1 150 82.2 149.6 82.4 149 82.6 148.6 82.7 148.2 82.8Z" stroke="#58586e"/>
<path d="M98.2 81.6 97.6 81.6 97 81.6 96.4 81.5 96 81.4 95.6 81.3 95.1 81 94.8 80.8 94.6 80.6 94.3 80.4 94 80 93.7 79.6 93.5 79.2 93.2 78.6 93 78 92.9 77.4 92.8 76.8 92.7 76 92.6 75.2 92.6 74.2 92.7 73.4 92.8 72.6 92.9 71.8 93 71.2 93.3 70.6 93.4 70.3 93.5 70 93.8 69.6 94 69.3 94.2 69.1 94.6 68.7 95 68.5 95.4 68.3 95.6 68.2 96 68.1 96.4 68 97 67.9 97.6 67.9 98 67.9 98.6 68 99 68.1 99.4 68.3 99.8 68.5 100.1 68.8 100.4 69.1 100.7 69.4 100.9 69.8 101.1 70.2 101.3 70.8 101.5 71.4 101.6 72 101.7 72.6 101.8 73.4 101.8 74.2 101.9 75.2 101.8 76 101.8 76.8 101.7 77.6 101.6 78.2 101.4 78.8 101.2 79.4 101 79.8 100.9 80 100.6 80.4 100.4 80.6 100.2 80.8 100 80.9 99.6 81.2 99.2 81.4 98.8 81.5 98.2 81.6Z" stroke="#58586e"/>
<path d="M160.4 81.6 159.8 81.6 159.4 81.6 158.8 81.5 158.4 81.4 158 81.3 157.6 81.1 157.2 80.8 157 80.7 156.8 80.4 156.6 80.2 156.3 79.8 156.1 79.4 155.9 78.8 155.7 78.2 155.6 77.6 155.5 77 155.4 76.2 155.4 75.4 155.3 74.4 155.4 73.4 155.4 72.6 155.5 71.8 155.7 71.2 155.8 70.6 156.1 70 156.3 69.6 156.4 69.4 156.6 69.1 156.9 68.8 157.2 68.6 157.6 68.3 157.9 68.2 158.2 68.1 158.6 68 159.2 67.9 159.8 67.9 160.4 67.9 161 68 161.4 68.2 161.8 68.3 162.3 68.6 162.6 68.9 163 69.2 163.3 69.6 163.6 70 163.8 70.5 164 71 164.2 71.6 164.3 72.2 164.4 72.8 164.5 73.6 164.6 74.4 164.6 75.4 164.5 76.2 164.4 77 164.3 77.8 164.1 78.4 163.9 79 163.7 79.4 163.5 79.8 163.2 80.2 162.8 80.6 162.4 80.9 162 81.1 161.8 81.2 161.4 81.4 161 81.5 160.4 81.6Z" stroke="#58586e"/>
<path d="M85.8 80.2 85.4 80.3 85 80.4 84.8 80.4 84.4 80.4 84 80.3 83.6 80.2 83.2 80 82.8 79.8 82.5 79.6 82.2 79.3 81.9 79 81.7 78.6 81.4 78.2 81.2 77.6 81.1 77.2 81 76.8 80.8 76.2 80.8 75.6 80.7 75 80.7 74.2 80.8 73.6 80.9 73 81 72.4 81.2 71.8 81.3 71.4 81.5 71 81.8 70.6 82.1 70.2 82.4 69.9 82.8 69.6 83.2 69.4 83.6 69.3 84 69.2 84.4 69.1 84.8 69.1 85.2 69.2 85.6 69.3 86 69.4 86.2 69.5 86.6 69.7 86.8 69.9 87 70.1 87.3 70.4 87.5 70.8 87.7 71.2 87.9 71.6 88 72 88.2 72.6 88.3 73 88.4 73.6 88.4 74.2 88.4 75 88.4 75.6 88.3 76.2 88.3 76.8 88.1 77.4 88 77.8 87.8 78.3 87.6 78.7 87.4 79 87.1 79.4 86.8 79.7 86.6 79.8 86.2 80.1 85.8 80.2Z" stroke="#58586e"/>
<path d="M173.6 80.2 173.2 80.3 172.8 80.4 172.4 80.4 172.2 80.4 171.8 80.3 171.4 80.2 171 80 170.7 79.8 170.4 79.6 170.2 79.4 169.9 79 169.6 78.6 169.4 78.2 169.2 77.6 169.1 77.2 169 76.8 168.9 76.2 168.8 75.4 168.8 74.8 168.8 74 168.8 73.4 168.9 72.8 169 72.2 169.2 71.7 169.4 71.2 169.6 70.8 169.8 70.5 170 70.2 170.2 70 170.4 69.8 170.8 69.5 171.2 69.4 171.6 69.2 172 69.1 172.4 69.1 172.8 69.1 173.2 69.2 173.6 69.3 174 69.5 174.4 69.7 174.8 70 175 70.2 175.2 70.4 175.5 70.8 175.7 71.2 175.9 71.6 176 72 176.2 72.4 176.3 72.8 176.4 73.4 176.4 74 176.5 74.6 176.5 75.2 176.4 75.8 176.4 76.4 176.2 77 176.1 77.6 175.9 78 175.7 78.4 175.5 78.8 175.2 79.2 175 79.4 174.8 79.6 174.4 79.9 174 80.1 173.6 80.2Z" stroke="#58586e"/>
<path d="M72 79 71.6 79 71.4 78.9 71 78.8 70.8 78.7 70.6 78.6 70.4 78.4 70.2 78.2 70 78 69.8 77.8 69.6 77.5 69.5 77.2 69.3 76.8 69.2 76.5 69.1 76 69 75.6 69 75.2 69 74.8 69 74.4 69 74 69 73.6 69.1 73.2 69.2 72.8 69.4 72.4 69.6 72 69.7 71.8 70 71.4 70.2 71.2 70.4 71 70.6 70.9 70.8 70.8 71.2 70.6 71.4 70.6 71.8 70.5 72.2 70.5 72.4 70.5 72.6 70.6 73 70.8 73.2 70.9 73.4 71 73.6 71.2 73.8 71.4 74 71.6 74.2 71.9 74.3 72.2 74.5 72.6 74.6 72.9 74.7 73.4 74.8 73.8 74.8 74.2 74.9 74.6 74.9 75.2 74.8 75.6 74.8 76 74.7 76.4 74.6 76.8 74.4 77.2 74.2 77.6 74.1 77.8 74 78 73.8 78.2 73.6 78.4 73.4 78.6 73.2 78.7 73 78.8 72.6 78.9 72.4 79 72 79Z" stroke="#58586e"/>
<path d="M185.4 79 185 79 184.8 79 184.4 78.8 184.2 78.7 184 78.6 183.6 78.3 183.4 78.1 183.2 77.9 183 77.6 182.8 77.2 182.6 76.6 182.5 76.2 182.4 75.6 182.4 75.2 182.3 74.8 182.4 74.2 182.4 73.8 182.4 73.4 182.5 73 182.7 72.6 182.8 72.2 183 71.8 183.2 71.6 183.4 71.3 183.6 71.1 183.8 70.9 184 70.8 184.2 70.7 184.6 70.6 184.8 70.5 185.2 70.5 185.6 70.5 185.8 70.6 186.2 70.7 186.4 70.8 186.7 71 186.9 71.2 187.2 71.5 187.4 71.7 187.6 72 187.8 72.4 188 73 188.1 73.4 188.2 73.8 188.2 74.2 188.2 74.6 188.2 75.2 188.2 75.6 188.1 76 188.1 76.4 187.9 76.8 187.8 77.2 187.6 77.6 187.4 77.8 187.2 78.1 187 78.3 186.8 78.5 186.6 78.6 186.3 78.8 186 78.9 185.8 78.9 185.4 79Z" stroke="#58586e"/>
<path d="M59.4 77.2 59.2 77.2 59 77.2 58.8 77.1 58.6 77 58.4 76.9 58.2 76.7 58.1 76.6 58 76.5 57.8 76.2 57.7 75.8 57.6 75.4 57.5 75.2 57.5 74.8 57.5 74.4 57.5 74.2 57.6 73.8 57.8 73.4 58 73 58.2 72.7 58.4 72.6 58.6 72.4 58.8 72.4 59 72.3 59.2 72.3 59.4 72.3 59.6 72.3 59.8 72.4 60 72.5 60.1 72.6 60.2 72.7 60.4 72.9 60.6 73.2 60.8 73.6 60.9 74 60.9 74.2 61 74.6 61 75 61 75.2 60.9 75.6 60.8 76 60.6 76.4 60.4 76.7 60.3 76.8 60 77 59.8 77.1 59.6 77.2 59.4 77.2Z" stroke="#58586e"/>
<path d="M198.2 77.2 198 77.2 197.8 77.2 197.6 77.2 197.4 77.1 197.2 77 197 76.8 196.8 76.6 196.6 76.3 196.4 75.9 196.3 75.4 196.2 75 196.2 74.6 196.2 74.4 196.3 74 196.4 73.6 196.6 73.1 196.8 72.8 197 72.6 197.2 72.5 197.4 72.4 197.6 72.3 197.8 72.3 198 72.3 198.2 72.3 198.4 72.4 198.6 72.5 198.8 72.6 199 72.8 199.2 73 199.4 73.4 199.5 73.6 199.6 74 199.7 74.4 199.7 74.8 199.7 75 199.6 75.4 199.5 75.8 199.4 76.2 199.3 76.4 199.1 76.6 199 76.8 198.8 76.9 198.6 77.1 198.4 77.1 198.2 77.2Z" stroke="#58586e"/>
<path d="M131.8 94.2 130.2 94.3 128.4 94.3 126.8 94.3 125.2 94.2 123.9 94 123.4 93.9 122.8 93.8 122.2 93.6 121.8 93.5 121.4 93.4 121 93.2 120.7 93 120.4 92.8 120 92.5 119.7 92.2 119.5 92 119.3 91.6 119.2 91.4 119 91 118.9 90.6 118.8 90.2 118.7 89.8 118.7 89.4 118.7 89 118.8 88.6 118.9 88.2 119.1 87.8 119.2 87.6 119.3 87.4 119.5 87.2 119.7 87 120 86.8 120.3 86.6 120.6 86.5 121.2 86.3 122 86.1 123 85.9 124.2 85.8 125.8 85.7 128 85.6 130.2 85.6 132.2 85.7 133.2 85.8 134 85.9 135.2 86 135.8 86.1 136.2 86.2 136.7 86.4 137.1 86.6 137.5 86.8 137.7 87 138 87.2 138.1 87.4 138.3 87.6 138.5 88 138.6 88.3 138.7 88.6 138.8 89 138.8 89.4 138.8 89.8 138.8 90.2 138.7 90.6 138.6 91 138.4 91.4 138.3 91.6 138 92 137.9 92.2 137.7 92.4 137.5 92.6 137.2 92.8 136.9 93 136.4 93.3 136 93.4 135.6 93.6 134.8 93.8 134 94 133 94.1 131.8 94.2Z" stroke="#58586e"/>
<path d="M130.4 104 129.2 104 128 104 126.8 104 125.6 103.8 124.6 103.7 123.8 103.5 123.4 103.4 123 103.2 122.4 103 122.1 102.8 121.8 102.6 121.6 102.4 121.3 102.2 121.2 102 121 101.8 120.8 101.5 120.7 101.2 120.6 101 120.5 100.6 120.4 100.4 120.4 100 120.4 99.6 120.5 99.4 120.6 99.1 120.7 98.8 120.8 98.6 121 98.4 121.2 98.2 121.4 98 121.6 97.8 122 97.6 122.2 97.5 122.4 97.4 122.9 97.2 123.4 97.1 123.8 97 124.8 96.8 125.4 96.7 126.2 96.6 127.6 96.5 128.4 96.5 129.4 96.5 131 96.6 132.4 96.7 133.1 96.8 133.6 96.9 134.1 97 134.6 97.1 135 97.3 135.3 97.4 135.7 97.6 136.1 97.8 136.3 98 136.6 98.2 136.7 98.4 136.9 98.6 137 98.8 137.2 99.2 137.3 99.6 137.3 99.8 137.3 100.2 137.3 100.6 137.3 100.8 137.1 101.2 137 101.4 136.8 101.8 136.6 102 136.4 102.3 136 102.6 135.7 102.8 135.4 103 134.9 103.2 134.2 103.4 133.4 103.6 132.5 103.8 131.4 103.9 130.4 104Z" stroke="#58586e"/>
<path d="M131.2 113.6 130.4 113.7 129.4 113.7 128.4 113.7 127.4 113.7 126.4 113.5 125.6 113.4 124.8 113.2 124.2 113 123.8 112.8 123.6 112.7 123.2 112.4 122.9 112.2 122.7 112 122.6 111.8 122.4 111.6 122.3 111.4 122.2 111.2 122.2 111 122.1 110.8 122.1 110.6 122.1 110.4 122.1 110.2 122.1 110 122.2 109.8 122.3 109.6 122.4 109.4 122.6 109.2 122.7 109 123 108.8 123.2 108.6 123.6 108.4 123.8 108.3 124.2 108.1 124.6 108 125.3 107.8 126.2 107.6 127.2 107.5 128.4 107.5 129.6 107.5 130.8 107.5 131.4 107.6 132 107.7 132.6 107.8 133 107.9 133.4 108 133.8 108.1 134.4 108.4 134.7 108.6 135 108.8 135.2 109 135.4 109.2 135.6 109.4 135.7 109.6 135.8 109.8 135.8 110 135.9 110.2 135.9 110.4 135.9 110.6 135.9 110.8 135.8 111 135.8 111.2 135.7 111.4 135.6 111.6 135.5 111.8 135.3 112 135.1 112.2 134.8 112.4 134.4 112.7 134.2 112.8 133.8 113 133.2 113.2 132.6 113.4 132 113.5 131.2 113.6Z" stroke="#58586e"/>
<path d="M130.8 123.2 130.2 123.3 129.4 123.3 128.6 123.3 128 123.3 127.4 123.2 126.6 123 126 122.9 125.6 122.7 125.2 122.5 124.8 122.3 124.7 122.2 124.4 122 124.2 121.7 124.1 121.6 124 121.4 123.9 121.2 123.9 121 123.9 120.8 123.9 120.6 124 120.4 124.1 120.2 124.2 120 124.4 119.8 124.6 119.6 124.8 119.4 125.2 119.2 125.7 119 126.4 118.8 127.2 118.6 128 118.5 128.8 118.5 129.8 118.5 130.6 118.6 131.4 118.7 132 118.9 132.6 119 133 119.2 133.2 119.3 133.6 119.6 133.8 119.8 134 120 134.1 120.2 134.2 120.3 134.3 120.6 134.3 120.8 134.3 121 134.3 121.2 134.2 121.5 134.1 121.6 134 121.8 133.8 122 133.6 122.2 133.3 122.4 132.8 122.7 132.4 122.8 131.8 123 131.4 123.1 130.8 123.2Z" stroke="#58586e"/>
<path d="M129.8 132.6 129.4 132.6 129 132.6 128.4 132.6 128 132.5 127.6 132.4 127.4 132.4 127 132.2 126.7 132 126.6 131.9 126.5 131.8 126.3 131.6 126.2 131.4 126.2 131.2 126.2 131 126.3 130.8 126.5 130.6 126.7 130.4 127 130.2 127.2 130.1 127.6 130 128 129.9 128.4 129.9 129 129.8 129.6 129.8 130 129.9 130.4 129.9 130.8 130 131.2 130.1 131.4 130.2 131.7 130.4 132 130.6 132.1 130.8 132.2 131 132.3 131.2 132.2 131.4 132.2 131.5 132.1 131.6 132 131.8 131.8 132 131.6 132.1 131.4 132.2 131 132.4 130.4 132.5 129.8 132.6Z" stroke="#58586e"/>
<path d="M130 51.2 129.4 51.3 128.8 51.4 128.2 51.4 127.6 51.3 127 51.3 126.5 51.2 126 51.1 125.6 51 125.2 50.8 124.8 50.6 124.5 50.4 124.3 50.2 124.2 50 124.1 49.8 124 49.6 124 49.4 124 49.2 124.1 49 124.2 48.8 124.3 48.6 124.5 48.4 124.8 48.2 125.1 48 125.6 47.8 126 47.7 126.4 47.6 126.8 47.5 127.4 47.4 127.8 47.4 128.4 47.4 129 47.4 129.6 47.5 130 47.5 130.4 47.6 131 47.8 131.5 48 131.8 48.2 132.1 48.4 132.3 48.6 132.4 48.8 132.5 49 132.6 49.2 132.6 49.4 132.6 49.6 132.6 49.8 132.5 50 132.3 50.2 132.1 50.4 131.8 50.6 131.5 50.8 131 51 130.4 51.2 130 51.2Z" stroke="#55557e"/>
<path d="M129 63.2 127.8 63.2 126.8 63.2 125.8 63.1 124.8 63 123.9 62.8 123.2 62.6 122.6 62.4 122.1 62.2 121.8 62 121.5 61.8 121.3 61.6 121.1 61.4 121 61.2 120.9 61 120.8 60.8 120.7 60.4 120.7 60.2 120.7 59.8 120.7 59.4 120.8 59.2 121 58.8 121.2 58.4 121.4 58.2 121.6 58 121.8 57.8 122.2 57.5 122.6 57.3 123 57.1 123.4 56.9 123.8 56.8 124.4 56.6 125.4 56.5 126 56.4 126.6 56.3 127.2 56.3 128 56.2 128.8 56.2 129.4 56.3 130.2 56.3 130.8 56.4 131.4 56.5 132 56.6 132.6 56.7 133 56.8 133.6 57 134 57.2 134.4 57.4 134.8 57.6 135 57.8 135.3 58 135.5 58.2 135.6 58.4 135.8 58.6 136 59 136.1 59.4 136.2 59.8 136.2 60 136.2 60.4 136.1 60.8 136 61 135.9 61.2 135.8 61.4 135.6 61.6 135.4 61.8 135.1 62 134.8 62.2 134.4 62.4 134.2 62.5 133.6 62.7 132.8 62.9 131.9 63 131 63.1 130 63.2 129 63.2Z" stroke="#55557e"/>
<path d="M111.4 81 111 81.1 110.4 81.1 109.8 81 109.4 80.9 109 80.8 108.8 80.7 108.4 80.5 108 80.3 107.7 80 107.3 79.6 107 79.2 106.8 78.8 106.6 78.4 106.4 78 106.2 77.4 106.1 76.8 105.9 76 105.9 75.2 105.9 74.4 105.9 73.6 106 73 106.1 72.4 106.2 71.8 106.4 71.2 106.7 70.6 107 70.1 107.3 69.8 107.6 69.5 108 69.2 108.4 68.9 108.6 68.8 109 68.7 109.4 68.5 110 68.4 110.4 68.4 110.8 68.4 111.2 68.5 111.6 68.6 112 68.7 112.4 68.9 112.7 69.2 113 69.4 113.3 69.8 113.5 70.2 113.7 70.6 113.9 71 114 71.4 114.2 72 114.3 72.6 114.3 73.2 114.4 74 114.4 74.8 114.4 75.6 114.4 76.4 114.3 77 114.2 77.6 114.1 78.2 113.9 78.8 113.7 79.2 113.5 79.6 113.2 80 113 80.2 112.8 80.4 112.6 80.5 112.2 80.7 111.8 80.9 111.4 81Z" stroke="#55557e"/>
<path d="M147.6 81 147.2 81.1 146.6 81.1 146.2 81 145.8 81 145.4 80.8 145 80.7 144.6 80.4 144.3 80.2 144.2 80.1 144 79.8 143.8 79.5 143.6 79.2 143.4 78.7 143.2 78.2 143.1 77.6 143 77 142.9 76.4 142.8 75.6 142.8 74.8 142.8 74 142.8 73.2 142.9 72.4 143 71.8 143.2 71.1 143.4 70.6 143.6 70.1 143.8 69.8 144 69.5 144.1 69.4 144.4 69.1 144.6 69 144.8 68.9 145.2 68.7 145.6 68.5 145.8 68.5 146.2 68.4 146.6 68.4 147.2 68.5 147.6 68.5 148 68.6 148.4 68.8 148.8 69 149.2 69.2 149.6 69.6 150 70 150.2 70.3 150.5 70.8 150.7 71.2 150.9 71.8 151.1 72.4 151.2 73 151.3 73.6 151.3 74.2 151.3 75 151.3 75.8 151.2 76.4 151.1 77 151 77.6 150.8 78.2 150.6 78.7 150.3 79.2 150 79.6 149.8 79.8 149.4 80.2 149 80.5 148.6 80.7 148.2 80.8 147.6 81Z" stroke="#55557e"/>
<path d="M97.8 78.2 97.6 78.3 97.4 78.3 97.2 78.2 97 78.2 96.8 78.1 96.6 78 96.3 77.8 96 77.6 95.8 77.4 95.6 77 95.4 76.7 95.3 76.4 95.2 76.2 95.1 75.8 95 75.4 95 75 95 74.6 95 74.2 95.1 73.6 95.2 73.2 95.3 73 95.4 72.7 95.6 72.3 95.8 72.1 96 71.9 96.2 71.7 96.4 71.5 96.6 71.4 96.8 71.4 97 71.3 97.2 71.3 97.4 71.2 97.6 71.2 97.8 71.3 98 71.3 98.2 71.4 98.4 71.5 98.6 71.6 98.8 71.8 99 72 99.2 72.3 99.4 72.6 99.6 73.1 99.7 73.4 99.8 73.8 99.9 74.4 99.9 74.8 99.9 75.2 99.8 75.8 99.6 76.4 99.6 76.6 99.4 77 99.1 77.4 99 77.6 98.8 77.8 98.6 77.9 98.4 78 98.2 78.1 98 78.2 97.8 78.2Z" stroke="#55557e"/>
<path d="M160.2 78.2 160 78.2 159.8 78.3 159.6 78.3 159.4 78.2 159.2 78.2 159 78.1 158.8 78 158.6 77.9 158.4 77.7 158.2 77.5 158 77.2 157.7 76.8 157.6 76.4 157.5 76.2 157.4 75.8 157.4 75.4 157.3 75 157.3 74.6 157.3 74.2 157.4 73.8 157.5 73.2 157.6 73 157.8 72.6 158 72.2 158.2 71.9 158.4 71.7 158.6 71.6 158.8 71.5 159 71.4 159.2 71.3 159.4 71.3 159.6 71.2 159.8 71.2 160 71.3 160.2 71.3 160.4 71.4 160.6 71.5 160.8 71.6 161 71.7 161.2 71.9 161.4 72.1 161.6 72.4 161.8 72.8 162 73.2 162 73.4 162.1 73.8 162.2 74.2 162.2 74.6 162.2 75 162.2 75.6 162 76.2 162 76.4 161.8 76.8 161.6 77.2 161.4 77.4 161.2 77.6 161 77.8 160.8 78 160.6 78.1 160.4 78.1 160.2 78.2Z" stroke="#55557e"/>
<path d="M130.4 93.2 129.4 93.3 128.2 93.3 127 93.2 126 93.1 125.2 92.9 124.4 92.8 124 92.6 123.6 92.5 122.9 92.2 122.6 92 122.3 91.8 122 91.6 121.8 91.4 121.7 91.2 121.5 91 121.4 90.8 121.2 90.5 121.1 90.2 121 90 121 89.7 121 89.4 121 89 121.1 88.8 121.2 88.6 121.2 88.4 121.4 88.2 121.5 88 121.7 87.8 121.9 87.6 122.2 87.4 122.6 87.2 123.2 87 123.6 86.8 124 86.7 124.6 86.6 125 86.5 126.2 86.4 127.4 86.3 129 86.3 130.4 86.3 131.6 86.4 132.2 86.5 132.8 86.6 133.8 86.8 134.2 86.9 134.6 87.1 134.9 87.2 135.2 87.4 135.5 87.6 135.8 87.8 136 88 136.1 88.2 136.3 88.4 136.4 88.6 136.5 89 136.5 89.2 136.5 89.6 136.5 90 136.4 90.2 136.3 90.6 136.1 91 135.9 91.2 135.7 91.4 135.5 91.6 135.3 91.8 134.8 92.1 134.2 92.4 133.7 92.6 133 92.8 132.2 93 131.4 93.1 130.4 93.2Z" stroke="#55557e"/>
<path d="M130.4 102 129.8 102.1 129.2 102.1 128.6 102.1 128 102.1 127.4 102 127 101.9 126.5 101.8 125.9 101.6 125.5 101.4 125.2 101.2 125 101 124.8 100.7 124.7 100.6 124.6 100.4 124.6 100.2 124.6 100 124.6 99.8 124.7 99.6 124.8 99.4 125 99.2 125.2 99 125.5 98.8 126 98.6 126.4 98.4 126.8 98.3 127.4 98.2 128 98.2 128.6 98.1 129.4 98.1 130 98.2 130.6 98.3 131.1 98.4 131.8 98.6 132.2 98.8 132.5 99 132.8 99.2 132.9 99.4 133.1 99.6 133.1 99.8 133.2 100 133.2 100.2 133.1 100.4 133.1 100.6 132.9 100.8 132.8 101 132.5 101.2 132.2 101.4 131.8 101.6 131.2 101.8 130.8 101.9 130.4 102Z" stroke="#55557e"/>
<path d="M130.4 62.2 129.8 62.3 129 62.3 128.2 62.3 127.4 62.3 126.6 62.2 126 62.1 125.4 62 124.7 61.8 124.3 61.6 123.9 61.4 123.6 61.1 123.5 61 123.3 60.8 123.2 60.6 123.1 60.4 123.1 60.2 123 60 123.1 59.8 123.1 59.6 123.2 59.4 123.3 59.2 123.4 59 123.6 58.8 123.8 58.6 124 58.5 124.4 58.2 124.9 58 125.4 57.8 126 57.6 126.6 57.5 127.2 57.5 128 57.4 128.8 57.4 129.4 57.4 130.2 57.5 130.8 57.6 131.4 57.8 132 58 132.4 58.2 132.8 58.4 133 58.6 133.3 58.8 133.4 59 133.6 59.2 133.7 59.4 133.8 59.6 133.8 59.8 133.8 60 133.8 60.2 133.8 60.4 133.7 60.6 133.6 60.8 133.4 61 133.2 61.2 133 61.4 132.6 61.6 132.2 61.8 131.6 62 131 62.1 130.4 62.2Z" stroke="#525a92"/>
<path d="M111.2 79.1 111 79.1 110.6 79.1 110.2 79.1 109.8 79 109.4 78.9 109.2 78.8 108.9 78.6 108.6 78.3 108.4 78.1 108.2 77.8 107.9 77.4 107.7 77 107.6 76.6 107.5 76.2 107.4 75.8 107.3 75.4 107.3 75 107.3 74.4 107.3 74 107.4 73.6 107.5 73.2 107.6 72.8 107.7 72.4 107.9 72 108.2 71.6 108.3 71.4 108.6 71.1 108.8 70.9 109 70.8 109.4 70.6 109.8 70.4 110.2 70.4 110.6 70.4 110.8 70.4 111.2 70.5 111.4 70.5 111.6 70.6 111.8 70.8 112.1 71 112.3 71.2 112.5 71.4 112.7 71.8 112.8 72 113 72.4 113.1 72.8 113.2 73.2 113.3 73.8 113.3 74.2 113.4 74.8 113.3 75.6 113.3 76 113.2 76.4 113.1 76.8 113 77.2 112.8 77.6 112.7 77.8 112.6 78 112.5 78.2 112.3 78.4 112 78.7 111.8 78.8 111.6 78.9 111.4 79 111.2 79.1Z" stroke="#525a92"/>
<path d="M147.4 79.1 147 79.1 146.6 79.1 146.2 79.1 146 79 145.6 78.9 145.4 78.7 145.2 78.6 145 78.4 144.8 78.2 144.6 77.9 144.4 77.5 144.3 77.2 144.1 76.8 144 76.4 143.9 76 143.9 75.6 143.8 75.2 143.8 74.6 143.9 74 143.9 73.6 144 73 144.1 72.6 144.2 72.2 144.4 71.8 144.6 71.5 144.8 71.2 145 71 145.2 70.8 145.4 70.7 145.6 70.6 145.8 70.5 146 70.4 146.4 70.4 146.6 70.4 147 70.4 147.2 70.4 147.6 70.5 148 70.7 148.2 70.9 148.4 71 148.6 71.2 148.8 71.4 149.1 71.8 149.2 72 149.4 72.4 149.6 72.8 149.7 73.2 149.8 73.6 149.9 74 149.9 74.4 149.9 75 149.9 75.4 149.8 75.8 149.8 76.2 149.7 76.6 149.5 77 149.4 77.3 149.2 77.7 149 77.9 148.8 78.2 148.6 78.4 148.3 78.6 148 78.8 147.6 79 147.4 79.1Z" stroke="#525a92"/>
<path d="M130.2 92 129.6 92.1 128.8 92.1 128 92.1 127.4 92 126.8 91.9 126.1 91.8 125.5 91.6 125 91.4 124.6 91.2 124.3 91 124.1 90.8 123.8 90.5 123.7 90.4 123.6 90.2 123.5 90 123.4 89.8 123.4 89.6 123.4 89.4 123.4 89.2 123.5 89 123.5 88.8 123.7 88.6 123.8 88.5 124.1 88.2 124.4 88 124.6 87.9 124.8 87.8 125.2 87.6 125.8 87.5 126.4 87.3 127.2 87.2 128 87.2 129 87.2 129.8 87.2 130.6 87.3 131.4 87.4 132.2 87.6 132.7 87.8 133.2 88.1 133.4 88.2 133.7 88.4 133.8 88.6 134 88.8 134.1 89 134.1 89.2 134.1 89.4 134.1 89.6 134.1 89.8 134.1 90 134 90.2 133.9 90.4 133.7 90.6 133.5 90.8 133.2 91 132.8 91.3 132.4 91.5 132 91.6 131.4 91.8 130.8 91.9 130.2 92Z" stroke="#525a92"/>
<path d="M128.8 60.8 128.4 60.8 128 60.8 127.6 60.7 127.2 60.6 126.9 60.4 126.7 60.2 126.7 60 126.8 59.8 126.9 59.6 127.3 59.4 127.6 59.3 127.8 59.2 128.2 59.2 128.7 59.2 129.2 59.3 129.6 59.4 129.9 59.6 130.1 59.8 130.2 60 130.1 60.2 130 60.4 129.8 60.5 129.6 60.6 129.2 60.7 128.8 60.8Z" stroke="#4a62a4"/>
<path d="M110.8 76.1 110.6 76.2 110.4 76.2 110.2 76.1 110 76 109.8 75.8 109.7 75.6 109.6 75.4 109.5 75 109.5 74.8 109.5 74.6 109.5 74.4 109.6 74.2 109.6 74 109.8 73.7 110 73.5 110.2 73.4 110.4 73.3 110.6 73.3 110.8 73.4 111 73.5 111.1 73.6 111.2 73.8 111.3 74 111.4 74.2 111.5 74.4 111.5 74.8 111.5 75 111.4 75.2 111.4 75.4 111.3 75.6 111.2 75.8 111 76 110.8 76.1Z" stroke="#4a62a4"/>
<path d="M147 76.1 146.8 76.2 146.6 76.2 146.4 76.1 146.2 76 146 75.7 145.9 75.6 145.8 75.3 145.7 75 145.7 74.6 145.7 74.4 145.8 74.1 146 73.8 146 73.7 146.2 73.5 146.4 73.4 146.6 73.3 146.8 73.3 147 73.4 147.2 73.5 147.3 73.6 147.4 73.7 147.5 74 147.6 74.2 147.7 74.4 147.7 74.6 147.7 74.8 147.7 75 147.7 75.2 147.6 75.4 147.5 75.6 147.4 75.8 147.2 76 147 76.1Z" stroke="#4a62a4"/>
<path d="M129.6 90.2 129.2 90.3 128.8 90.3 128.4 90.3 127.9 90.2 127.6 90.1 127.4 90 127.2 89.8 127 89.6 127 89.4 127.1 89.2 127.4 89 127.6 88.9 127.8 88.8 128.4 88.7 128.8 88.7 129.2 88.7 129.7 88.8 130.2 89 130.4 89.2 130.5 89.4 130.5 89.6 130.4 89.8 130.1 90 129.8 90.1 129.6 90.2Z" stroke="#4a62a4"/>
</g>
</g>
<rect x="50" y="12.8" width="156.8" height="127.9" fill="none" stroke="#8a8a8a" stroke-width="1.2"/>
<path d="M50 140.7v-1.6M50 12.8v1.6M128.4 140.7v-1.6M128.4 12.8v1.6M206.8 140.7v-1.6M206.8 12.8v1.6M50 25.2h1.6M206.8 25.2h-1.6M50 50.7h1.6M206.8 50.7h-1.6M50 76.2h1.6M206.8 76.2h-1.6M50 101.7h1.6M206.8 101.7h-1.6M50 127.2h1.6M206.8 127.2h-1.6" stroke="#8a8a8a" stroke-width="1" fill="none"/>
<g font-size="12.6" fill="#1a1a1a" class="t">
<path d="M763 0H583V1147C540 1106 483 1064 413 1023C343 982 280 951 223 930V1104C324 1151 412 1209 487 1276C562 1343 616 1408 647 1472H763Z" transform="translate(35.98 153.7) scale(0.006152 -0.006152)"/>
<text x="42.99" y="153.7">000</text>
<path d="M763 0H583V1147C540 1106 483 1064 413 1023C343 982 280 951 223 930V1104C324 1151 412 1209 487 1276C562 1343 616 1408 647 1472H763Z" transform="translate(114.38 153.7) scale(0.006152 -0.006152)"/>
<text x="121.39" y="153.7">200</text>
<path d="M763 0H583V1147C540 1106 483 1064 413 1023C343 982 280 951 223 930V1104C324 1151 412 1209 487 1276C562 1343 616 1408 647 1472H763Z" transform="translate(192.78 153.7) scale(0.006152 -0.006152)"/>
<text x="199.79" y="153.7">400</text>
</g>
<g font-size="12.6" fill="#1a1a1a" class="t">
<path d="M763 0H583V1147C540 1106 483 1064 413 1023C343 982 280 951 223 930V1104C324 1151 412 1209 487 1276C562 1343 616 1408 647 1472H763Z" transform="translate(19.77 29.7) scale(0.006152 -0.006152)"/>
<text x="26.78" y="29.7">400</text>
<path d="M763 0H583V1147C540 1106 483 1064 413 1023C343 982 280 951 223 930V1104C324 1151 412 1209 487 1276C562 1343 616 1408 647 1472H763Z" transform="translate(19.77 55.2) scale(0.006152 -0.006152)"/>
<text x="26.78" y="55.2">300</text>
<path d="M763 0H583V1147C540 1106 483 1064 413 1023C343 982 280 951 223 930V1104C324 1151 412 1209 487 1276C562 1343 616 1408 647 1472H763Z" transform="translate(19.77 80.7) scale(0.006152 -0.006152)"/>
<text x="26.78" y="80.7">200</text>
<path d="M763 0H583V1147C540 1106 483 1064 413 1023C343 982 280 951 223 930V1104C324 1151 412 1209 487 1276C562 1343 616 1408 647 1472H763Z" transform="translate(19.77 106.2) scale(0.006152 -0.006152)"/>
<path d="M763 0H583V1147C540 1106 483 1064 413 1023C343 982 280 951 223 930V1104C324 1151 412 1209 487 1276C562 1343 616 1408 647 1472H763Z" transform="translate(26.78 106.2) scale(0.006152 -0.006152)"/>
<text x="33.78" y="106.2">00</text>
<path d="M763 0H583V1147C540 1106 483 1064 413 1023C343 982 280 951 223 930V1104C324 1151 412 1209 487 1276C562 1343 616 1408 647 1472H763Z" transform="translate(19.77 131.7) scale(0.006152 -0.006152)"/>
<text x="26.78" y="131.7">000</text>
</g>
<text x="128" y="166.6" font-size="12.8" fill="#1a1a1a" text-anchor="middle" class="t">Azimuth samples</text>
<text transform="translate(14.2 76.2) rotate(-90)" font-size="13" fill="#1a1a1a" text-anchor="middle" class="t">Range samples</text>
<g fill="none">
<path d="M130.8 280.5 129.6 280.5 128.2 280.5 126.8 280.5 125.6 280.5 124.6 280.4 123.6 280.4 122.8 280.3 122 280.2 121.4 280.1 120.8 279.9 120.4 279.8 120 279.6 119.6 279.4 119.3 279.1 119 278.8 118.7 278.5 118.6 278.3 118.4 277.9 118.3 277.5 118.1 277.1 118 276.3 117.8 275.3 117.7 273.9 117.7 272.5 117.7 270.9 117.7 269.3 117.8 268.3 117.9 267.3 118.1 266.5 118.3 265.9 118.4 265.5 118.5 265.3 118.6 265.1 118.8 264.8 119 264.6 119.2 264.4 119.4 264.2 119.6 264 119.8 263.9 120.2 263.7 120.6 263.6 121 263.4 121.4 263.3 122 263.2 122.6 263.1 123.4 263.1 125 262.9 127.2 262.9 129.6 262.9 131.8 262.9 133.2 263 134.4 263.1 135.4 263.3 135.8 263.4 136.2 263.5 136.8 263.7 137.2 263.9 137.4 264 137.7 264.3 138 264.5 138.1 264.7 138.3 264.9 138.5 265.3 138.6 265.5 138.7 265.9 138.9 266.5 139 267.1 139.1 267.9 139.2 268.7 139.3 269.7 139.3 270.9 139.3 272.3 139.3 273.5 139.2 274.5 139.1 275.5 139 276.3 138.9 276.9 138.7 277.5 138.6 277.9 138.5 278.1 138.3 278.5 138.1 278.7 138 278.9 137.6 279.2 137.4 279.4 137 279.6 136.6 279.8 136.2 279.9 135.8 280 135.2 280.1 134.6 280.2 134 280.3 132.6 280.4 130.8 280.5Z" fill="#2240a8"/>
<path d="M128.8 280.1 127.6 280.1 126.6 280.1 125.6 280 124.8 279.9 124 279.8 123.2 279.7 122.6 279.6 122 279.4 121.4 279.2 121 279 120.6 278.8 120.2 278.5 119.9 278.3 119.6 277.9 119.3 277.5 119.1 277.1 118.9 276.7 118.8 276.3 118.5 275.5 118.4 274.5 118.3 273.5 118.2 272.3 118.2 270.9 118.3 269.7 118.4 268.7 118.5 267.9 118.8 267.1 119 266.5 119.2 266.1 119.3 265.9 119.6 265.4 119.8 265.2 120 265 120.4 264.7 120.7 264.5 121 264.4 121.4 264.2 121.8 264 122.2 263.9 122.8 263.8 123.4 263.6 124 263.6 124.8 263.5 125.6 263.4 126.4 263.3 127.4 263.3 129.2 263.3 131 263.4 131.8 263.4 132.6 263.5 133.6 263.6 134.2 263.8 134.6 263.9 135 264 135.4 264.1 135.8 264.3 136.2 264.5 136.6 264.7 136.8 264.9 137.2 265.2 137.4 265.4 137.6 265.7 137.8 266 137.9 266.3 138.2 266.9 138.4 267.5 138.5 268.1 138.6 268.9 138.7 269.7 138.8 270.7 138.8 271.5 138.8 272.5 138.7 273.5 138.7 274.3 138.5 275.1 138.4 275.7 138.2 276.3 138.1 276.7 137.8 277.3 137.6 277.7 137.4 278 137.1 278.3 136.8 278.5 136.4 278.8 136 279 135.6 279.2 135.2 279.4 134.8 279.5 134.2 279.6 133.6 279.8 133 279.8 132.2 279.9 131.4 280 130.6 280.1 128.8 280.1Z" fill="#2558bd"/>
<path d="M131.8 279.5 130.8 279.6 129.8 279.7 128.8 279.7 127.8 279.7 126.8 279.7 125.8 279.6 124.8 279.5 124 279.3 123.2 279.2 122.6 279 122 278.7 121.6 278.6 121.2 278.3 120.8 278 120.4 277.7 120.1 277.3 119.9 277.1 119.7 276.7 119.4 276.1 119.2 275.7 119.1 275.3 118.9 274.5 118.8 273.5 118.7 272.5 118.7 271.5 118.7 270.5 118.8 269.5 119 268.7 119.2 267.9 119.4 267.3 119.7 266.7 120 266.2 120.2 265.9 120.4 265.7 120.6 265.5 120.9 265.3 121.2 265.1 121.5 264.9 121.8 264.7 122.2 264.6 122.6 264.4 123.2 264.2 124.2 264 125.4 263.9 126.8 263.7 128.4 263.7 130 263.7 131.2 263.8 132.4 264 133.4 264.1 134 264.3 134.4 264.4 134.8 264.6 135.2 264.7 135.5 264.9 135.8 265.1 136.1 265.3 136.4 265.5 136.6 265.7 136.9 266.1 137.2 266.5 137.4 266.9 137.6 267.3 137.8 267.9 138 268.5 138.1 269.1 138.2 269.7 138.2 270.3 138.3 271.1 138.3 271.9 138.3 272.7 138.2 273.3 138.1 274.1 138 274.7 137.9 275.3 137.7 275.9 137.5 276.3 137.3 276.7 137.1 277.1 136.9 277.3 136.6 277.7 136.4 277.9 136.1 278.1 135.8 278.3 135.5 278.5 135.1 278.7 134.6 278.9 134.2 279 133.6 279.2 133 279.3 132.4 279.4 131.8 279.5Z" fill="#2a76d0"/>
<path d="M129 279.3 128.2 279.3 127.2 279.3 126.4 279.2 125.6 279.1 124.8 279 124.2 278.9 123.6 278.7 123 278.5 122.4 278.3 122 278.1 121.6 277.8 121.2 277.5 120.8 277.1 120.4 276.7 120.2 276.3 120 275.9 119.7 275.3 119.6 274.9 119.5 274.5 119.3 273.7 119.3 273.3 119.2 272.7 119.2 271.9 119.2 270.9 119.3 269.9 119.4 269.1 119.5 268.7 119.7 268.3 119.9 267.7 120.2 267.1 120.4 266.7 120.8 266.3 121.2 265.9 121.4 265.7 121.8 265.4 122.4 265.1 122.8 264.9 123.2 264.8 123.6 264.7 124.2 264.5 124.8 264.4 125.4 264.3 126.6 264.2 128 264.1 129.4 264.1 130.2 264.1 130.8 264.2 131.4 264.3 132 264.4 133 264.6 133.8 264.8 134.2 264.9 134.6 265.1 135.2 265.4 135.6 265.7 135.8 265.9 136 266.1 136.2 266.3 136.4 266.5 136.7 266.9 137 267.5 137.2 267.9 137.4 268.5 137.6 269.1 137.7 269.7 137.8 270.3 137.8 270.9 137.8 271.5 137.8 272.3 137.8 272.9 137.7 273.5 137.6 274.1 137.5 274.7 137.3 275.3 137.1 275.7 136.9 276.1 136.6 276.6 136.4 276.9 136 277.3 135.8 277.5 135.4 277.8 135 278.1 134.6 278.3 134.2 278.5 133.8 278.6 133.4 278.7 132.8 278.9 132.2 279 131.6 279.1 130.4 279.2 129 279.3Z" fill="#3294dd"/>
<path d="M129.6 278.9 128.8 278.9 128 278.9 127.2 278.9 126.4 278.8 125.6 278.7 124.8 278.6 124.2 278.4 123.6 278.2 123 278 122.6 277.8 122.2 277.6 121.8 277.3 121.4 276.9 121 276.5 120.7 276.1 120.5 275.7 120.2 275.1 120 274.5 119.8 273.7 119.7 272.9 119.6 272.1 119.6 271.5 119.6 271.1 119.7 270.3 119.9 269.5 120 269.1 120.1 268.7 120.3 268.1 120.6 267.5 120.9 267.1 121.2 266.7 121.6 266.3 122.1 265.9 122.6 265.6 123 265.4 123.4 265.2 124.2 265 124.6 264.9 125.2 264.7 125.8 264.6 126.4 264.6 127.6 264.5 128.2 264.5 129 264.5 130.2 264.5 130.8 264.6 131.4 264.7 132.4 264.9 133.2 265.1 133.6 265.2 134 265.4 134.6 265.7 134.9 265.9 135.2 266.1 135.6 266.5 135.8 266.7 136.1 267.1 136.3 267.3 136.5 267.7 136.7 268.1 136.9 268.5 137 268.9 137.1 269.5 137.3 270.1 137.3 270.7 137.4 271.3 137.4 271.9 137.3 272.5 137.3 273.1 137.2 273.7 137.1 274.1 136.9 274.7 136.8 275.1 136.6 275.5 136.4 275.9 136.2 276.2 136 276.5 135.6 276.9 135.4 277.1 135.2 277.3 134.8 277.6 134.4 277.8 134 278 133.6 278.2 133 278.4 132.5 278.5 132 278.6 131.4 278.7 130.8 278.8 129.6 278.9Z" fill="#40b2e5"/>
<path d="M130 278.5 129.2 278.6 128.4 278.6 127.6 278.5 126.8 278.5 126 278.4 125.4 278.3 124.8 278.1 124.2 278 123.6 277.7 123.1 277.5 122.6 277.2 122.2 276.9 121.8 276.6 121.5 276.3 121.2 275.9 121 275.5 120.7 274.9 120.5 274.3 120.3 273.7 120.2 272.9 120.1 272.1 120.1 271.3 120.2 270.5 120.3 269.7 120.5 269.1 120.7 268.5 121 267.9 121.2 267.5 121.6 267 122 266.6 122.4 266.3 123 265.9 123.4 265.7 123.8 265.6 124.2 265.4 124.6 265.3 125 265.2 125.6 265.1 126.6 264.9 127.6 264.9 128.2 264.8 128.8 264.8 129.4 264.9 130 264.9 131 265 131.6 265.1 132 265.2 132.8 265.4 133.2 265.6 133.6 265.7 134.2 266.1 134.6 266.3 134.8 266.5 135.1 266.7 135.3 266.9 135.6 267.3 135.8 267.5 136 267.9 136.2 268.3 136.4 268.7 136.5 269.1 136.7 269.7 136.8 270.1 136.9 270.7 136.9 271.1 136.9 271.7 136.9 272.3 136.9 272.7 136.8 273.3 136.7 273.7 136.5 274.3 136.4 274.7 136.2 275.1 136 275.5 135.8 275.9 135.6 276.1 135.4 276.4 135.1 276.7 134.8 276.9 134.4 277.2 133.8 277.6 133.4 277.7 133 277.9 132.2 278.1 131.8 278.2 131.2 278.4 130.6 278.4 130 278.5Z" fill="#54c9dd"/>
<path d="M130.2 278.1 129.6 278.2 128.8 278.2 128 278.2 127.2 278.2 126.4 278.1 125.8 278 125.2 277.8 124.6 277.7 124 277.4 123.6 277.2 123.2 277 122.7 276.7 122.4 276.4 122 276.1 121.7 275.7 121.4 275.3 121.1 274.7 120.9 274.1 120.7 273.5 120.6 272.9 120.5 272.3 120.5 271.5 120.6 270.7 120.7 270.1 120.8 269.5 121 268.9 121.3 268.3 121.6 267.9 121.9 267.5 122.2 267.1 122.7 266.7 123.2 266.4 123.8 266.1 124.2 265.9 124.6 265.7 125.4 265.5 125.8 265.4 126.4 265.3 127.4 265.2 128 265.2 128.6 265.2 129.6 265.2 130.6 265.3 131.4 265.5 132.2 265.7 132.6 265.8 133 266 133.4 266.2 133.7 266.3 134 266.5 134.3 266.7 134.8 267.1 135 267.3 135.2 267.6 135.6 268.1 135.8 268.5 136 268.9 136.1 269.3 136.2 269.7 136.3 270.1 136.4 270.5 136.4 270.9 136.5 271.5 136.5 272.1 136.4 272.5 136.4 273.1 136.3 273.5 136.2 273.9 136 274.3 135.9 274.7 135.7 275.1 135.4 275.5 135.3 275.7 135 276.1 134.8 276.3 134.5 276.5 134.2 276.8 134 276.9 133.6 277.1 133.2 277.3 132.8 277.5 132.4 277.7 132 277.8 131.2 278 130.2 278.1Z" fill="#6cdaca"/>
<path d="M130.4 277.7 129.8 277.8 129 277.8 128.2 277.8 127.6 277.8 126.8 277.7 126.2 277.6 125.6 277.5 125 277.4 124.4 277.1 124 277 123.6 276.7 123.2 276.5 122.8 276.2 122.5 275.9 122.2 275.5 121.9 275.1 121.6 274.6 121.4 274.1 121.2 273.5 121.1 272.9 121 272.3 121 271.9 121 271.5 121 270.9 121.1 270.3 121.2 269.7 121.4 269.3 121.6 268.8 121.9 268.3 122.2 267.9 122.5 267.5 123 267.1 123.4 266.8 124 266.4 124.4 266.3 124.8 266.1 125.6 265.9 126.4 265.7 127.2 265.6 128.2 265.6 129.2 265.6 130.2 265.7 131 265.8 131.8 266 132.2 266.1 132.6 266.3 133.2 266.6 133.8 266.9 134 267.1 134.3 267.3 134.7 267.7 134.8 267.9 135.1 268.3 135.2 268.5 135.5 268.9 135.6 269.3 135.8 269.7 135.9 270.1 135.9 270.5 136 270.9 136 271.5 136 271.9 136 272.3 136 272.7 135.9 273.1 135.8 273.5 135.7 273.9 135.5 274.3 135.4 274.7 135.2 275 135 275.3 134.6 275.8 134.3 276.1 134 276.3 133.8 276.5 133.5 276.7 133.1 276.9 132.8 277 132.4 277.2 132 277.4 131.2 277.6 130.4 277.7Z" fill="#8ee4a8"/>
<path d="M130.6 277.3 130 277.4 129.4 277.5 128.8 277.5 128 277.5 127.4 277.4 126.8 277.4 126.2 277.3 125.5 277.1 125 276.9 124.5 276.7 124 276.5 123.6 276.2 123.2 275.9 123 275.7 122.6 275.3 122.3 274.9 122 274.4 121.8 273.9 121.7 273.5 121.5 272.9 121.5 272.5 121.4 271.9 121.4 271.3 121.5 270.7 121.6 270.1 121.7 269.7 122 269.1 122.2 268.7 122.4 268.3 122.8 267.9 123.2 267.5 123.6 267.2 124.2 266.8 124.8 266.6 125.2 266.4 125.6 266.3 126.4 266.1 127.2 266 128 265.9 129 265.9 129.8 266 130.6 266.1 131.4 266.3 131.8 266.4 132.2 266.6 132.8 266.8 133.3 267.1 133.6 267.3 133.8 267.5 134.2 267.9 134.4 268.1 134.7 268.5 134.8 268.7 135 269.1 135.3 269.7 135.4 270.1 135.5 270.5 135.5 270.9 135.6 271.3 135.6 271.7 135.6 272.1 135.5 272.5 135.5 272.9 135.4 273.3 135.3 273.7 135 274.3 134.8 274.7 134.7 274.9 134.4 275.3 134 275.7 133.8 275.9 133.4 276.2 132.8 276.6 132.2 276.8 131.8 277 131.4 277.1 130.6 277.3Z" fill="#b0ea86"/>
<path d="M129.2 277.1 128.6 277.1 128 277.1 127.4 277.1 126.8 277 126.2 276.9 125.6 276.7 125 276.5 124.6 276.3 124.2 276.1 123.8 275.8 123.4 275.5 123.2 275.3 122.9 274.9 122.6 274.5 122.4 274.1 122.2 273.7 122.1 273.3 121.9 272.7 121.9 272.1 121.8 271.5 121.9 270.9 122 270.5 122.1 269.9 122.3 269.5 122.5 269.1 122.7 268.7 123 268.3 123.4 267.9 123.8 267.6 124.2 267.3 124.6 267.1 125.2 266.8 125.8 266.6 126.6 266.4 127.4 266.3 128.2 266.3 129 266.3 129.8 266.3 130.6 266.5 131.2 266.6 131.8 266.8 132.4 267.1 132.8 267.3 133 267.4 133.4 267.7 133.8 268.1 134 268.3 134.2 268.6 134.5 269.1 134.6 269.3 134.8 269.7 135 270.3 135.1 270.7 135.1 271.1 135.2 271.5 135.2 271.9 135.1 272.5 135 273.1 134.8 273.7 134.6 274.1 134.5 274.3 134.3 274.7 134.1 274.9 133.8 275.3 133.3 275.7 133.1 275.9 132.8 276.1 132.2 276.4 131.6 276.6 131.2 276.8 130.8 276.9 130 277 129.2 277.1Z" fill="#cde469"/>
<path d="M129.6 276.7 129.2 276.7 128.6 276.8 128 276.8 127.4 276.7 126.8 276.6 126.4 276.5 125.8 276.4 125.4 276.2 125 276 124.6 275.8 124.2 275.6 123.9 275.3 123.6 275 123.3 274.7 123 274.3 122.8 273.9 122.6 273.5 122.5 273.1 122.4 272.7 122.3 272.1 122.3 271.5 122.3 271.1 122.4 270.5 122.5 270.1 122.7 269.7 122.9 269.3 123.2 268.9 123.5 268.5 123.8 268.2 124.1 267.9 124.6 267.6 125 267.4 125.6 267.1 126.2 266.9 126.8 266.8 127.6 266.7 128.4 266.6 129.2 266.7 130 266.8 130.6 266.9 131.2 267 131.8 267.3 132.3 267.5 132.6 267.7 132.8 267.8 133.2 268.2 133.6 268.6 133.8 268.8 134 269.1 134.2 269.5 134.5 270.1 134.6 270.7 134.7 271.3 134.7 271.9 134.6 272.5 134.5 273.1 134.4 273.4 134.3 273.7 134.2 273.9 134 274.3 133.8 274.6 133.6 274.8 133.2 275.2 132.8 275.6 132.6 275.7 132.3 275.9 132 276 131.6 276.2 131 276.4 130.4 276.6 129.6 276.7Z" fill="#dfd652"/>
<path d="M129.6 276.3 129 276.4 128.4 276.4 127.8 276.4 127.4 276.3 126.8 276.2 126.4 276.1 126 276 125.6 275.8 125.2 275.7 124.8 275.4 124.4 275.1 124.2 275 123.9 274.7 123.6 274.3 123.4 274 123.2 273.7 123 273.3 122.9 272.9 122.8 272.5 122.8 272.1 122.8 271.5 122.8 271.1 122.9 270.7 123 270.3 123.1 269.9 123.3 269.5 123.6 269.1 123.8 268.8 124.1 268.5 124.4 268.3 124.8 268 125.2 267.7 125.7 267.5 126.3 267.3 127 267.1 127.6 267.1 128.2 267 129 267 129.7 267.1 130.4 267.2 131 267.4 131.4 267.6 131.7 267.7 132 267.9 132.4 268.1 132.8 268.4 133.2 268.8 133.4 269.1 133.6 269.3 133.8 269.7 134 270.2 134.1 270.7 134.2 271.3 134.2 271.9 134.2 272.5 134 273.1 133.8 273.7 133.6 274.1 133.3 274.5 132.9 274.9 132.7 275.1 132.4 275.3 132 275.5 131.7 275.7 131.4 275.8 130.8 276.1 130.2 276.2 129.6 276.3Z" fill="#e6be40"/>
<path d="M129.6 275.9 129.2 276 128.8 276 128.2 276 127.8 276 127.3 275.9 126.8 275.8 126.4 275.7 126 275.5 125.6 275.4 125.2 275.1 124.8 274.9 124.6 274.7 124.4 274.5 124 274.1 123.8 273.8 123.7 273.5 123.6 273.3 123.4 272.9 123.3 272.5 123.3 272.1 123.2 271.7 123.3 271.3 123.3 270.9 123.4 270.5 123.6 270.1 123.8 269.7 124 269.3 124.2 269.1 124.4 268.9 124.8 268.5 125.1 268.3 125.5 268.1 126 267.9 126.6 267.7 127.2 267.5 127.8 267.4 128.4 267.4 129 267.4 129.6 267.5 130.2 267.6 130.6 267.7 131.2 267.9 131.5 268.1 131.8 268.3 132.2 268.5 132.4 268.7 132.8 269.1 133.1 269.5 133.3 269.9 133.5 270.3 133.6 270.6 133.7 270.9 133.7 271.3 133.8 271.9 133.7 272.5 133.6 272.9 133.4 273.3 133.2 273.8 133 274.1 132.8 274.3 132.6 274.5 132.2 274.9 131.8 275.1 131.4 275.4 130.8 275.6 130.2 275.8 129.6 275.9Z" fill="#e5a537"/>
<path d="M129.4 275.5 129 275.6 128.6 275.6 128.2 275.6 127.8 275.5 127.4 275.5 127 275.4 126.6 275.3 126.2 275.1 125.8 275 125.6 274.9 125.4 274.7 125 274.4 124.7 274.1 124.5 273.9 124.4 273.7 124.1 273.3 124 273 123.9 272.7 123.8 272.3 123.7 271.9 123.7 271.5 123.8 271.1 123.9 270.7 123.9 270.5 124 270.3 124.2 269.9 124.4 269.6 124.7 269.3 125 269 125.4 268.7 125.7 268.5 126 268.3 126.6 268.1 127 268 127.5 267.9 128 267.8 128.6 267.8 129 267.8 129.5 267.9 130 268 130.4 268.1 131 268.3 131.4 268.5 131.8 268.8 132.1 269.1 132.4 269.4 132.6 269.7 132.9 270.1 133.1 270.5 133.2 270.9 133.2 271.3 133.3 271.5 133.3 271.9 133.2 272.4 133.1 272.7 133.1 272.9 132.9 273.3 132.6 273.7 132.4 274 132.1 274.3 131.8 274.6 131.6 274.7 131.3 274.9 130.9 275.1 130.4 275.3 130 275.4 129.4 275.5Z" fill="#e08b32"/>
<path d="M129 275.1 128.6 275.1 128.2 275.1 127.6 275.1 127.2 275 126.9 274.9 126.6 274.8 126.2 274.6 126 274.5 125.7 274.3 125.4 274.1 125.2 273.9 125 273.7 124.7 273.3 124.6 273.1 124.4 272.7 124.4 272.5 124.3 272.1 124.3 271.7 124.3 271.3 124.4 270.9 124.4 270.7 124.6 270.3 124.7 270.1 125 269.7 125.2 269.5 125.4 269.3 125.6 269.1 126 268.9 126.2 268.8 126.4 268.7 126.8 268.5 127.2 268.4 127.6 268.3 128 268.3 128.6 268.3 129.2 268.3 129.6 268.4 130 268.5 130.4 268.6 130.8 268.8 131.2 269 131.6 269.3 131.8 269.5 132 269.7 132.3 270.1 132.4 270.3 132.6 270.7 132.7 271.1 132.7 271.5 132.7 271.9 132.7 272.3 132.6 272.7 132.4 273.1 132.2 273.4 132 273.7 131.8 273.9 131.6 274.1 131.4 274.3 131 274.5 130.6 274.7 130.2 274.9 129.8 275 129.4 275.1 129 275.1Z" fill="#d5732f"/>
<path d="M129.6 274.5 129 274.6 128.6 274.7 128.2 274.6 127.6 274.6 127.3 274.5 127 274.4 126.7 274.3 126.4 274.1 126 273.9 125.8 273.7 125.6 273.5 125.4 273.3 125.3 273.1 125.2 272.9 125.1 272.7 125 272.5 124.9 272.1 124.9 271.9 124.9 271.5 125 271.1 125 270.9 125.2 270.5 125.4 270.1 125.6 269.9 125.8 269.7 126 269.5 126.2 269.4 126.4 269.3 126.8 269.1 127.2 268.9 127.6 268.8 128 268.8 128.4 268.7 128.8 268.8 129.2 268.8 129.6 268.9 130 269 130.3 269.1 130.7 269.3 131 269.5 131.2 269.7 131.4 269.9 131.6 270.1 131.7 270.3 131.8 270.5 132 270.9 132 271.1 132.1 271.5 132.1 271.9 132 272.3 132 272.5 131.8 272.9 131.6 273.3 131.4 273.5 131.2 273.7 131 273.9 130.6 274.1 130.3 274.3 130 274.4 129.6 274.5Z" fill="#ca612e"/>
<path d="M129.6 273.9 129.2 274 129 274.1 128.6 274.1 128.2 274.1 128 274.1 127.6 274 127.2 273.9 126.8 273.7 126.6 273.5 126.4 273.4 126.1 273.1 126 272.9 125.8 272.7 125.7 272.5 125.7 272.3 125.6 272.1 125.6 271.9 125.6 271.5 125.6 271.3 125.7 271.1 125.7 270.9 125.8 270.7 126 270.5 126.1 270.3 126.4 270 126.6 269.9 126.9 269.7 127.2 269.5 127.4 269.5 127.6 269.4 128 269.3 128.4 269.3 128.8 269.3 129.2 269.4 129.4 269.4 129.7 269.5 130 269.6 130.2 269.7 130.5 269.9 130.7 270.1 130.9 270.3 131 270.5 131.2 270.8 131.3 271.1 131.4 271.3 131.4 271.5 131.4 271.9 131.4 272.1 131.3 272.3 131.2 272.6 131 272.9 130.9 273.1 130.7 273.3 130.5 273.5 130.2 273.7 130 273.8 129.6 273.9Z" fill="#c25931"/>
<path d="M129 273.3 128.6 273.4 128.2 273.4 127.9 273.3 127.6 273.2 127.4 273.1 127.2 273 127 272.9 126.8 272.6 126.7 272.5 126.6 272.3 126.5 272.1 126.5 271.9 126.4 271.7 126.5 271.5 126.5 271.3 126.6 271.1 126.7 270.9 126.8 270.7 127.1 270.5 127.4 270.3 127.6 270.2 127.8 270.1 128.2 270 128.6 270 128.8 270 129.1 270.1 129.4 270.2 129.6 270.3 129.9 270.5 130.2 270.8 130.3 270.9 130.4 271.1 130.5 271.3 130.5 271.5 130.6 271.7 130.5 271.9 130.5 272.1 130.4 272.3 130.3 272.5 130.2 272.7 130 272.9 129.8 273 129.6 273.1 129.4 273.2 129.2 273.3 129 273.3Z" fill="#ffffff"/>
<path d="M130.8 280.5 129.6 280.5 128.2 280.5 126.8 280.5 125.6 280.5 124.6 280.4 123.6 280.4 122.8 280.3 122 280.2 121.4 280.1 120.8 279.9 120.4 279.8 120 279.6 119.6 279.4 119.3 279.1 119 278.8 118.7 278.5 118.6 278.3 118.4 277.9 118.3 277.5 118.1 277.1 118 276.3 117.8 275.3 117.7 273.9 117.7 272.5 117.7 270.9 117.7 269.3 117.8 268.3 117.9 267.3 118.1 266.5 118.3 265.9 118.4 265.5 118.5 265.3 118.6 265.1 118.8 264.8 119 264.6 119.2 264.4 119.4 264.2 119.6 264 119.8 263.9 120.2 263.7 120.6 263.6 121 263.4 121.4 263.3 122 263.2 122.6 263.1 123.4 263.1 125 262.9 127.2 262.9 129.6 262.9 131.8 262.9 133.2 263 134.4 263.1 135.4 263.3 135.8 263.4 136.2 263.5 136.8 263.7 137.2 263.9 137.4 264 137.7 264.3 138 264.5 138.1 264.7 138.3 264.9 138.5 265.3 138.6 265.5 138.7 265.9 138.9 266.5 139 267.1 139.1 267.9 139.2 268.7 139.3 269.7 139.3 270.9 139.3 272.3 139.3 273.5 139.2 274.5 139.1 275.5 139 276.3 138.9 276.9 138.7 277.5 138.6 277.9 138.5 278.1 138.3 278.5 138.1 278.7 138 278.9 137.6 279.2 137.4 279.4 137 279.6 136.6 279.8 136.2 279.9 135.8 280 135.2 280.1 134.6 280.2 134 280.3 132.6 280.4 130.8 280.5Z" fill="none" stroke="#3a40a0" stroke-width="0.8"/>
<path d="M129 273.3 128.6 273.4 128.2 273.4 127.9 273.3 127.6 273.2 127.4 273.1 127.2 273 127 272.9 126.8 272.6 126.7 272.5 126.6 272.3 126.5 272.1 126.5 271.9 126.4 271.7 126.5 271.5 126.5 271.3 126.6 271.1 126.7 270.9 126.8 270.7 127.1 270.5 127.4 270.3 127.6 270.2 127.8 270.1 128.2 270 128.6 270 128.8 270 129.1 270.1 129.4 270.2 129.6 270.3 129.9 270.5 130.2 270.8 130.3 270.9 130.4 271.1 130.5 271.3 130.5 271.5 130.6 271.7 130.5 271.9 130.5 272.1 130.4 272.3 130.3 272.5 130.2 272.7 130 272.9 129.8 273 129.6 273.1 129.4 273.2 129.2 273.3 129 273.3Z" fill="none" stroke="#c2603a" stroke-width="0.9"/>
<g fill="none" stroke="#55556e" stroke-width="0.75">
<path d="M129.4 221.9 128.8 222 128.4 222 128 222 127.4 221.9 127 221.8 126.7 221.7 126.3 221.5 126 221.3 125.9 221.1 125.8 220.9 125.8 220.7 125.8 220.5 125.9 220.3 126.1 220.1 126.4 219.9 126.8 219.7 127 219.6 127.4 219.5 127.8 219.5 128.2 219.4 128.6 219.4 129 219.5 129.4 219.5 129.8 219.6 130.2 219.7 130.6 219.9 130.9 220.1 131 220.2 131.1 220.3 131.2 220.5 131.2 220.7 131.2 220.9 131.1 221.1 131 221.3 130.8 221.4 130.7 221.5 130.4 221.6 130 221.8 129.6 221.9 129.4 221.9Z" stroke="#58586e"/>
<path d="M130 232.1 129.4 232.2 128.8 232.2 128 232.2 127.4 232.1 126.8 232.1 126.2 232 125.6 231.8 125.2 231.6 124.9 231.5 124.6 231.3 124.3 231.1 124.2 231 124.1 230.9 124 230.7 123.9 230.5 123.8 230.3 123.8 230.1 123.8 229.9 123.8 229.7 123.9 229.5 124 229.3 124.2 229.1 124.4 228.9 124.7 228.7 125 228.5 125.2 228.4 125.6 228.3 126.2 228.1 126.8 228 127.6 227.9 128.4 227.8 129.2 227.9 129.8 227.9 130.6 228.1 131.2 228.2 131.5 228.3 131.8 228.4 132 228.5 132.3 228.7 132.6 228.9 132.8 229.1 133 229.3 133.1 229.5 133.2 229.7 133.2 229.9 133.2 230.1 133.2 230.3 133.1 230.5 133 230.7 132.9 230.9 132.7 231.1 132.4 231.3 132.1 231.5 131.7 231.7 131 231.9 130.6 232 130 232.1Z" stroke="#58586e"/>
<path d="M130 242.1 129.2 242.2 128.2 242.2 127.4 242.1 126.6 242.1 125.8 242 125.2 241.9 124.6 241.7 124 241.5 123.6 241.3 123.4 241.2 123 240.9 122.8 240.7 122.6 240.5 122.5 240.3 122.4 240.1 122.3 239.9 122.3 239.7 122.3 239.5 122.3 239.3 122.3 239.1 122.3 238.9 122.4 238.7 122.5 238.5 122.6 238.3 122.8 238.1 123 237.9 123.2 237.7 123.5 237.5 124 237.3 124.4 237.1 124.8 237 125.6 236.8 126.4 236.6 127.4 236.5 128.4 236.5 129.4 236.5 130.4 236.6 131 236.7 131.4 236.8 132.2 237 132.6 237.1 133 237.3 133.5 237.5 133.8 237.7 134 237.9 134.2 238.1 134.4 238.3 134.5 238.5 134.6 238.7 134.7 238.9 134.7 239.1 134.7 239.3 134.7 239.5 134.7 239.7 134.7 239.9 134.6 240.1 134.5 240.3 134.4 240.4 134.2 240.7 134 240.9 133.8 241 133.4 241.3 133 241.5 132.6 241.6 132 241.8 131.4 241.9 130.8 242 130 242.1Z" stroke="#58586e"/>
<path d="M131.4 251.9 130.2 252 129 252 127.6 252 126.4 252 125.2 251.9 124.2 251.7 123.4 251.5 122.8 251.3 122.4 251.1 122.2 251 122 250.9 121.7 250.7 121.5 250.5 121.4 250.3 121.2 250.1 121.1 249.9 121 249.5 120.9 249.3 120.9 248.9 120.9 248.5 120.9 248.3 121 247.9 121.2 247.6 121.4 247.3 121.5 247.1 121.7 246.9 121.9 246.7 122.2 246.5 122.6 246.3 122.9 246.1 123.2 246 123.6 245.8 124 245.7 124.8 245.5 125.8 245.4 127 245.3 128.4 245.2 129.8 245.3 131 245.4 132 245.5 132.6 245.6 133 245.7 133.4 245.8 133.8 246 134.1 246.1 134.5 246.3 134.8 246.5 135 246.6 135.2 246.8 135.4 247 135.6 247.3 135.8 247.5 136 247.9 136 248.1 136.1 248.5 136.1 248.9 136.1 249.1 136.1 249.3 136 249.6 135.9 249.9 135.8 250.1 135.6 250.3 135.5 250.5 135.2 250.7 135 250.9 134.6 251.1 134.2 251.3 133.6 251.5 133 251.7 132.2 251.8 131.4 251.9Z" stroke="#58586e"/>
<path d="M133 261.7 131.6 261.8 129.8 261.9 128 261.9 126.2 261.8 124.6 261.8 123.4 261.6 122.4 261.5 122 261.4 121.6 261.3 121.2 261.1 121 261 120.8 260.9 120.5 260.7 120.2 260.5 120 260.3 119.9 260.1 119.8 259.9 119.7 259.7 119.6 259.3 119.5 258.9 119.5 258.5 119.5 258.1 119.5 257.7 119.6 257.3 119.7 257.1 119.8 256.7 119.9 256.5 120.2 256.1 120.3 255.9 120.5 255.7 120.8 255.5 121 255.3 121.4 255.1 121.6 255 122 254.8 122.4 254.7 123.1 254.5 124 254.3 125.2 254.2 126 254.1 126.8 254.1 128.4 254 130 254.1 131.4 254.2 132.2 254.2 132.8 254.3 133.4 254.4 133.9 254.5 134.4 254.6 134.8 254.8 135.2 254.9 135.6 255.1 136 255.3 136.2 255.5 136.5 255.7 136.7 255.9 136.8 256.1 137.1 256.5 137.2 256.7 137.3 257.1 137.5 257.5 137.5 257.9 137.5 258.3 137.5 258.7 137.5 259.1 137.4 259.3 137.3 259.7 137.2 259.9 137.1 260.1 137 260.3 136.8 260.5 136.6 260.7 136.2 260.9 135.9 261.1 135.6 261.2 135 261.4 134.2 261.5 133 261.7Z" stroke="#58586e"/>
<path d="M113.6 278.9 113 279 112.4 279.1 111.8 279.1 111.2 279 110.6 278.9 110 278.7 109.6 278.6 109.4 278.5 109 278.3 108.8 278.1 108.6 278 108.3 277.7 108 277.3 107.8 277 107.6 276.5 107.4 276 107.2 275.5 107.1 274.9 107 273.9 106.9 272.9 106.9 271.9 106.9 270.7 106.9 269.7 107 268.9 107.2 268.1 107.3 267.7 107.4 267.3 107.6 266.8 107.9 266.3 108 266.1 108.2 265.8 108.4 265.6 108.6 265.4 108.8 265.3 109 265.1 109.4 264.9 109.6 264.8 110.2 264.6 110.8 264.4 111.4 264.4 112 264.3 112.6 264.3 113 264.4 113.4 264.4 113.8 264.5 114.2 264.7 114.6 264.8 115 265.1 115.2 265.3 115.4 265.5 115.6 265.9 115.8 266.3 115.9 266.5 116 266.9 116.2 267.5 116.2 267.9 116.3 268.5 116.4 269.5 116.4 270.7 116.5 271.9 116.4 273.1 116.4 274.3 116.3 275.3 116.1 276.1 116 276.7 115.8 277.1 115.7 277.3 115.5 277.7 115.4 277.9 115.2 278.1 115 278.3 114.6 278.6 114.2 278.7 114 278.8 113.6 278.9Z" stroke="#58586e"/>
<path d="M146.4 278.9 146 279 145.4 279.1 144.8 279.1 144.2 279.1 143.6 279 143.2 278.9 142.8 278.7 142.4 278.6 142 278.3 141.8 278.1 141.6 277.9 141.4 277.5 141.2 277.1 141.1 276.9 141 276.5 140.8 275.9 140.8 275.5 140.7 274.9 140.6 273.9 140.6 272.7 140.5 271.3 140.6 270.1 140.7 268.9 140.8 267.9 140.9 267.1 141.1 266.5 141.3 266.1 141.5 265.7 141.6 265.5 141.8 265.3 142 265.1 142.2 265 142.6 264.7 143 264.6 143.6 264.4 144.2 264.3 144.8 264.3 145.4 264.3 146 264.4 146.6 264.5 147.1 264.7 147.6 264.9 148 265.1 148.4 265.4 148.7 265.7 149 266.1 149.2 266.4 149.4 266.9 149.6 267.4 149.8 267.9 149.9 268.5 150 269.5 150.1 270.5 150.1 271.5 150.1 272.7 150.1 273.7 150 274.5 149.8 275.3 149.7 275.7 149.6 276.1 149.4 276.6 149.1 277.1 149 277.3 148.8 277.6 148.6 277.8 148.4 278 148 278.3 147.6 278.5 147.4 278.6 147 278.7 146.4 278.9Z" stroke="#58586e"/>
<path d="M100.8 277.9 100.4 277.9 99.8 277.9 99.2 277.8 98.8 277.6 98.4 277.4 98 277.2 97.7 276.9 97.4 276.6 97.1 276.3 96.9 275.9 96.7 275.5 96.5 274.9 96.3 274.3 96.2 273.7 96.1 273.1 96.1 272.3 96.1 271.5 96.1 270.9 96.2 270.1 96.3 269.5 96.4 268.9 96.6 268.3 96.8 267.7 97 267.3 97.3 266.9 97.6 266.6 98 266.2 98.4 266 98.8 265.8 99.2 265.6 99.6 265.6 100.2 265.5 100.8 265.5 101.2 265.5 101.6 265.6 102 265.8 102.4 266 102.6 266.1 103 266.4 103.3 266.7 103.5 267.1 103.7 267.5 103.9 267.9 104 268.3 104.2 268.9 104.3 269.5 104.3 270.1 104.4 270.9 104.4 271.7 104.4 272.5 104.3 273.3 104.3 273.9 104.2 274.5 104 275.2 103.8 275.7 103.6 276.1 103.4 276.5 103.2 276.8 102.9 277.1 102.6 277.3 102.2 277.6 101.8 277.7 101.4 277.8 100.8 277.9Z" stroke="#58586e"/>
<path d="M157 277.9 156.4 277.9 156 277.9 155.6 277.8 155.2 277.7 154.8 277.6 154.4 277.3 154.1 277.1 153.8 276.8 153.6 276.5 153.4 276.1 153.2 275.7 153 275.2 152.9 274.7 152.8 274.1 152.7 273.5 152.6 272.9 152.6 272.1 152.6 271.3 152.6 270.5 152.7 269.7 152.8 268.9 153 268.3 153.2 267.7 153.4 267.3 153.6 266.9 153.8 266.6 154.1 266.3 154.4 266.1 154.8 265.8 155.2 265.7 155.6 265.6 156.2 265.5 156.6 265.5 157.2 265.5 157.6 265.6 158 265.7 158.4 265.9 158.8 266.1 159.2 266.4 159.5 266.7 159.8 267 160 267.3 160.2 267.7 160.4 268.3 160.6 268.9 160.7 269.5 160.8 270.1 160.9 270.7 160.9 271.5 160.9 272.3 160.9 273.1 160.8 273.7 160.7 274.3 160.5 274.9 160.3 275.5 160.1 275.9 159.8 276.4 159.5 276.7 159.2 277 158.8 277.3 158.4 277.5 158 277.7 157.6 277.8 157 277.9Z" stroke="#58586e"/>
<path d="M89.6 276.7 89.2 276.8 88.8 276.8 88.4 276.7 88 276.6 87.6 276.5 87.4 276.4 87 276.1 86.7 275.9 86.4 275.5 86.2 275.2 86 274.9 85.8 274.5 85.7 274.1 85.6 273.7 85.5 273.3 85.4 272.7 85.4 272.1 85.4 271.5 85.4 270.9 85.4 270.5 85.5 269.9 85.6 269.5 85.8 269 86 268.5 86.2 268.2 86.4 267.9 86.7 267.5 87 267.3 87.4 267 87.8 266.8 88.2 266.7 88.6 266.6 89 266.6 89.4 266.7 89.6 266.7 90 266.8 90.2 266.9 90.6 267.1 90.8 267.3 91 267.4 91.2 267.7 91.4 267.9 91.6 268.3 91.8 268.7 91.9 268.9 92 269.3 92.1 269.7 92.2 270.3 92.2 270.7 92.3 271.3 92.3 271.9 92.3 272.5 92.2 273.1 92.1 273.7 92 274.1 91.9 274.5 91.7 274.9 91.6 275.1 91.4 275.5 91.2 275.7 91.1 275.9 90.8 276.1 90.6 276.3 90.2 276.5 90 276.6 89.6 276.7Z" stroke="#58586e"/>
<path d="M168.6 276.7 168.2 276.8 167.8 276.8 167.4 276.7 167.2 276.7 166.8 276.5 166.6 276.4 166.4 276.3 166.2 276.1 165.9 275.9 165.8 275.7 165.5 275.3 165.3 274.9 165.1 274.5 165 274.1 164.9 273.5 164.8 273.1 164.7 272.5 164.7 271.9 164.7 271.3 164.8 270.7 164.8 270.1 164.9 269.5 165.1 269.1 165.2 268.7 165.4 268.3 165.6 267.9 165.8 267.7 166 267.4 166.2 267.3 166.4 267.1 166.8 266.9 167 266.8 167.4 266.7 167.8 266.6 168.2 266.6 168.6 266.7 169 266.8 169.2 266.8 169.6 267 169.8 267.1 170 267.3 170.4 267.6 170.6 267.9 170.8 268.2 171 268.5 171.2 269 171.4 269.5 171.5 269.9 171.5 270.3 171.6 270.9 171.6 271.5 171.6 272.1 171.6 272.6 171.5 273.1 171.4 273.7 171.3 274.1 171.2 274.5 171 274.9 170.8 275.2 170.6 275.5 170.3 275.9 170 276.1 169.8 276.3 169.4 276.5 169 276.6 168.6 276.7Z" stroke="#58586e"/>
<path d="M77.8 275.5 77.6 275.5 77.2 275.5 77 275.5 76.6 275.4 76.4 275.3 76.1 275.1 75.9 274.9 75.7 274.7 75.4 274.3 75.3 274.1 75.2 273.9 75 273.5 74.9 272.9 74.8 272.5 74.8 272.1 74.7 271.7 74.8 271.3 74.8 270.9 74.9 270.5 75 270.1 75.1 269.7 75.2 269.5 75.4 269.1 75.6 268.8 75.8 268.6 76 268.4 76.2 268.2 76.5 268.1 76.8 268 77 267.9 77.4 267.9 77.8 267.9 78 267.9 78.2 268 78.4 268.1 78.6 268.2 78.8 268.3 79 268.5 79.2 268.7 79.4 269 79.6 269.3 79.8 269.9 80 270.5 80 270.9 80.1 271.3 80.1 271.7 80.1 272.1 80 272.7 79.9 273.1 79.8 273.5 79.7 273.9 79.6 274.1 79.4 274.4 79.2 274.7 79 274.9 78.8 275.1 78.6 275.2 78.4 275.3 78.2 275.4 78 275.5 77.8 275.5Z" stroke="#58586e"/>
<path d="M179.8 275.5 179.4 275.5 179.2 275.5 179 275.5 178.8 275.4 178.6 275.3 178.4 275.2 178.2 275.1 178 274.9 177.8 274.7 177.6 274.4 177.4 274.1 177.2 273.5 177 272.9 177 272.5 176.9 272.1 176.9 271.7 176.9 271.3 177 270.9 177 270.5 177.1 270.1 177.3 269.7 177.4 269.4 177.5 269.1 177.8 268.7 178 268.5 178.2 268.3 178.4 268.2 178.6 268.1 178.8 268 179.1 267.9 179.4 267.9 179.8 267.9 180 267.9 180.2 268 180.5 268.1 180.8 268.2 181 268.4 181.2 268.6 181.4 268.8 181.6 269.1 181.7 269.3 181.8 269.5 182 269.9 182.1 270.5 182.2 270.9 182.2 271.3 182.3 271.7 182.2 272.1 182.2 272.5 182.1 272.9 182 273.3 181.9 273.7 181.8 273.9 181.6 274.3 181.4 274.6 181.2 274.8 181 275 180.8 275.2 180.6 275.3 180.4 275.4 180 275.5 179.8 275.5Z" stroke="#58586e"/>
<path d="M66.2 273.9 66 273.9 65.8 273.9 65.6 273.9 65.4 273.8 65.3 273.7 65.2 273.6 65 273.4 64.8 273.1 64.6 272.7 64.5 272.3 64.4 271.9 64.4 271.5 64.5 271.1 64.6 270.7 64.8 270.2 64.9 270.1 65.1 269.9 65.2 269.8 65.4 269.6 65.6 269.5 65.8 269.5 66 269.5 66.3 269.5 66.4 269.5 66.6 269.6 66.8 269.8 67 270 67.2 270.2 67.4 270.7 67.5 271.1 67.6 271.5 67.6 271.9 67.5 272.3 67.4 272.7 67.2 273.2 67 273.4 66.8 273.6 66.6 273.8 66.4 273.9 66.2 273.9Z" stroke="#58586e"/>
<path d="M191.2 273.9 191 273.9 190.8 273.9 190.6 273.9 190.4 273.8 190.3 273.7 190.2 273.6 190 273.4 189.8 273.2 189.6 272.7 189.5 272.3 189.4 271.9 189.4 271.5 189.5 271.1 189.6 270.7 189.8 270.2 190.1 269.9 190.2 269.8 190.4 269.6 190.6 269.5 190.7 269.5 191 269.5 191.2 269.5 191.4 269.5 191.6 269.6 191.8 269.8 192 270 192.1 270.1 192.2 270.3 192.4 270.7 192.5 271.1 192.6 271.5 192.6 271.9 192.5 272.3 192.4 272.7 192.2 273.1 192 273.4 191.8 273.6 191.6 273.8 191.4 273.9 191.2 273.9Z" stroke="#58586e"/>
<path d="M130.6 289.3 129.2 289.3 127.6 289.3 126.2 289.3 124.8 289.2 123.8 289 123.2 288.9 122.8 288.8 122.4 288.7 122 288.6 121.4 288.3 121 288.1 120.8 287.9 120.5 287.7 120.3 287.5 120.2 287.3 119.9 286.9 119.8 286.7 119.7 286.3 119.6 286.1 119.5 285.7 119.5 285.3 119.5 284.9 119.5 284.5 119.6 284.1 119.7 283.7 119.8 283.5 119.9 283.3 120 283.1 120.2 282.9 120.5 282.7 120.8 282.5 121 282.4 121.4 282.2 121.7 282.1 122.5 281.9 123.6 281.7 124.8 281.6 126.2 281.6 128.2 281.5 130.4 281.5 132.2 281.6 133 281.7 133.6 281.8 134.6 281.9 135.2 282.1 135.6 282.2 135.9 282.3 136.2 282.5 136.5 282.7 136.8 282.9 137 283.1 137.1 283.3 137.2 283.5 137.4 283.9 137.4 284.1 137.5 284.5 137.5 284.7 137.5 285.1 137.5 285.5 137.5 285.9 137.3 286.3 137.3 286.5 137.1 286.9 137 287.1 136.8 287.3 136.6 287.6 136.4 287.8 136.2 287.9 136 288.1 135.6 288.3 135 288.6 134.4 288.8 133.6 289 132.8 289.1 131.8 289.2 130.6 289.3Z" stroke="#58586e"/>
<path d="M130 298.1 129 298.1 127.8 298.1 126.6 298.1 125.6 298 124.8 297.9 124 297.7 123.6 297.6 123.2 297.4 122.9 297.3 122.6 297.1 122.2 296.9 121.9 296.7 121.7 296.5 121.5 296.3 121.4 296.1 121.2 295.8 121 295.5 120.9 295.1 120.9 294.9 120.9 294.5 120.9 294.1 121 293.9 121.1 293.5 121.2 293.3 121.4 293.1 121.5 292.9 121.8 292.7 122 292.5 122.4 292.3 122.8 292.1 123 292 123.4 291.9 123.8 291.8 124.2 291.7 124.8 291.6 125.8 291.5 127.2 291.4 128.8 291.4 130.2 291.4 131.5 291.5 132.6 291.7 133 291.7 133.6 291.9 134.2 292.1 134.6 292.3 135 292.5 135.3 292.7 135.5 292.9 135.6 293.1 135.8 293.3 135.9 293.5 136 293.7 136.1 294.1 136.1 294.3 136.1 294.7 136.1 295.1 136 295.3 135.9 295.7 135.6 296.1 135.5 296.3 135.3 296.5 135 296.8 134.8 296.9 134.5 297.1 134 297.3 133.4 297.6 132.8 297.7 131.9 297.9 131 298 130 298.1Z" stroke="#58586e"/>
<path d="M131 306.7 130.2 306.8 129.2 306.9 128.2 306.9 127.2 306.8 126.4 306.8 125.6 306.6 124.8 306.4 124.2 306.2 123.9 306.1 123.6 305.9 123.2 305.7 123 305.5 122.8 305.3 122.6 305.1 122.5 304.9 122.4 304.7 122.3 304.5 122.3 304.3 122.3 304.1 122.3 303.9 122.3 303.7 122.3 303.5 122.4 303.3 122.5 303.1 122.6 303 122.8 302.7 123 302.5 123.2 302.4 123.6 302.1 124 301.9 124.6 301.7 125.4 301.5 126.2 301.4 127 301.3 128 301.2 129 301.2 130 301.3 130.8 301.4 131.6 301.5 132.4 301.7 133 301.9 133.4 302.1 133.6 302.2 134 302.5 134.2 302.7 134.4 302.9 134.5 303.1 134.6 303.3 134.7 303.5 134.7 303.7 134.7 303.9 134.7 304.1 134.7 304.3 134.7 304.5 134.6 304.7 134.4 305 134.2 305.3 134 305.5 133.8 305.7 133.4 305.9 133 306.1 132.4 306.4 131.8 306.5 131 306.7Z" stroke="#58586e"/>
<path d="M129.4 315.5 128.8 315.5 128.2 315.5 127.6 315.5 127 315.5 126.4 315.3 126 315.3 125.5 315.1 125 314.9 124.7 314.7 124.4 314.5 124.2 314.3 124 314.1 123.9 313.9 123.8 313.7 123.8 313.5 123.8 313.3 123.8 313.1 123.9 312.9 124 312.7 124.1 312.5 124.2 312.4 124.3 312.3 124.6 312.1 124.9 311.9 125.4 311.7 126 311.5 126.8 311.3 127.4 311.3 128.2 311.2 129 311.2 129.8 311.3 130.4 311.4 131.1 311.5 131.7 311.7 132.1 311.9 132.4 312.1 132.6 312.2 132.7 312.3 132.9 312.5 133 312.7 133.1 312.9 133.2 313.1 133.2 313.3 133.2 313.5 133.2 313.7 133.1 313.9 133 314.1 132.8 314.3 132.6 314.5 132.3 314.7 132 314.9 131.4 315.1 130.8 315.3 130.4 315.4 129.8 315.5 129.4 315.5Z" stroke="#58586e"/>
<path d="M129.4 323.9 128.8 324 128.4 324 128 323.9 127.6 323.9 127.4 323.9 126.8 323.7 126.4 323.5 126.1 323.3 125.9 323.1 125.8 322.9 125.8 322.7 125.8 322.5 125.9 322.3 126 322.1 126.3 321.9 126.4 321.9 126.7 321.7 127 321.6 127.4 321.5 127.8 321.5 128.2 321.4 128.6 321.4 129 321.4 129.4 321.5 129.8 321.6 130.2 321.7 130.4 321.8 130.7 321.9 131 322.1 131 322.2 131.1 322.3 131.2 322.5 131.2 322.7 131.2 322.9 131.1 323.1 130.9 323.3 130.8 323.4 130.6 323.5 130.4 323.6 130.2 323.7 130 323.8 129.4 323.9Z" stroke="#58586e"/>
<path d="M129.6 250.5 129.2 250.6 128.6 250.6 128 250.6 127.4 250.5 127 250.5 126.4 250.3 125.8 250.1 125.4 249.9 125.2 249.8 125 249.6 124.9 249.5 124.8 249.4 124.7 249.3 124.7 249.1 124.6 248.9 124.6 248.7 124.7 248.5 124.8 248.3 124.9 248.1 125.1 247.9 125.4 247.7 125.7 247.5 126.3 247.3 126.8 247.2 127.2 247.1 127.8 247 128.4 247 129 247 129.6 247.1 130.2 247.2 130.7 247.3 131.2 247.5 131.6 247.7 131.9 247.9 132.1 248.1 132.2 248.3 132.3 248.5 132.4 248.7 132.4 248.9 132.3 249.1 132.3 249.3 132.1 249.5 131.9 249.7 131.7 249.9 131.2 250.1 130.6 250.3 130 250.5 129.6 250.5Z" stroke="#55557e"/>
<path d="M131.4 261.1 130.4 261.2 129.2 261.3 128 261.3 127 261.2 126 261.2 125.2 261.1 124.3 260.9 123.6 260.7 123 260.5 122.7 260.3 122.4 260.1 122.1 259.9 122 259.7 121.8 259.5 121.7 259.3 121.6 259.1 121.6 258.9 121.5 258.7 121.5 258.3 121.5 257.9 121.6 257.7 121.8 257.3 121.9 257.1 122 256.9 122.2 256.7 122.4 256.5 122.7 256.3 123 256.1 123.4 255.9 124 255.6 124.6 255.4 125.4 255.2 126.4 255.1 127.4 255 128.4 255 129.4 255 130.4 255.1 131.4 255.2 132.2 255.4 132.6 255.5 133 255.6 133.4 255.8 133.7 255.9 134.2 256.2 134.6 256.5 134.8 256.7 135 256.9 135.1 257.1 135.2 257.3 135.3 257.5 135.5 257.9 135.5 258.3 135.5 258.5 135.4 258.9 135.4 259.1 135.3 259.3 135.2 259.5 135 259.7 134.9 259.9 134.6 260.1 134.2 260.4 133.9 260.5 133.6 260.6 133 260.8 132.2 261 131.4 261.1Z" stroke="#55557e"/>
<path d="M113 277.3 112.6 277.4 112.2 277.4 111.6 277.4 111.2 277.3 110.8 277.2 110.4 277 110 276.8 109.6 276.4 109.3 276.1 109 275.7 108.8 275.4 108.6 275 108.4 274.5 108.3 274.1 108.2 273.5 108.1 272.9 108 272.3 108 271.5 108.1 270.7 108.1 270.1 108.2 269.5 108.4 268.9 108.6 268.4 108.8 268 109.1 267.5 109.4 267.2 109.7 266.9 110 266.6 110.4 266.4 110.8 266.2 111.2 266.1 111.8 266 112.2 266 112.6 266 113 266.1 113.4 266.2 113.7 266.3 114 266.5 114.2 266.6 114.5 266.9 114.7 267.1 114.8 267.3 114.9 267.5 115 267.7 115.2 268.1 115.3 268.5 115.4 268.9 115.6 269.5 115.6 270.1 115.7 270.7 115.7 271.5 115.7 272.3 115.7 272.9 115.6 273.6 115.5 274.3 115.4 274.7 115.2 275.3 115 275.7 114.8 276.1 114.6 276.4 114.4 276.6 114.2 276.8 114 276.9 113.8 277 113.4 277.2 113 277.3Z" stroke="#55557e"/>
<path d="M145.6 277.3 145.2 277.4 144.8 277.4 144.4 277.4 144 277.3 143.6 277.2 143.2 277 143 276.9 142.8 276.8 142.6 276.6 142.4 276.4 142.2 276.1 142 275.7 141.8 275.3 141.7 274.9 141.6 274.5 141.4 273.9 141.4 273.3 141.3 272.7 141.3 271.9 141.3 271.1 141.3 270.3 141.4 269.7 141.6 268.9 141.7 268.3 141.9 267.9 142.1 267.5 142.2 267.3 142.3 267.1 142.6 266.8 142.8 266.6 143 266.5 143.2 266.4 143.6 266.2 144 266.1 144.4 266 144.8 266 145.4 266 145.8 266.1 146.2 266.2 146.6 266.4 147 266.6 147.3 266.9 147.6 267.1 147.8 267.4 148 267.7 148.3 268.1 148.4 268.5 148.6 268.9 148.8 269.5 148.8 269.9 148.9 270.5 149 271.1 149 271.9 149 272.5 148.9 273.1 148.8 273.7 148.6 274.3 148.4 274.9 148.3 275.3 148 275.7 147.8 276 147.6 276.3 147.2 276.6 146.8 276.9 146.4 277.1 146 277.2 145.6 277.3Z" stroke="#55557e"/>
<path d="M101.2 274.7 101 274.8 100.8 274.8 100.6 274.9 100.4 274.9 100.2 274.8 100 274.8 99.8 274.7 99.6 274.6 99.4 274.5 99.2 274.4 99 274.2 98.8 273.9 98.7 273.7 98.6 273.5 98.4 273.1 98.4 272.9 98.3 272.5 98.2 271.9 98.2 271.5 98.2 271.1 98.4 270.5 98.5 270.1 98.6 269.9 98.8 269.5 99 269.2 99.2 269 99.4 268.9 99.6 268.8 99.8 268.7 100 268.6 100.2 268.6 100.4 268.5 100.6 268.5 100.8 268.6 101 268.6 101.2 268.7 101.4 268.8 101.6 269 101.8 269.1 102 269.4 102.2 269.7 102.3 269.9 102.4 270.3 102.6 270.9 102.6 271.5 102.6 272.1 102.5 272.7 102.4 273.1 102.4 273.3 102.2 273.7 101.9 274.1 101.8 274.3 101.6 274.4 101.4 274.6 101.2 274.7Z" stroke="#55557e"/>
<path d="M157.2 274.7 157 274.8 156.8 274.8 156.6 274.9 156.4 274.9 156.2 274.8 156 274.8 155.8 274.7 155.6 274.6 155.4 274.4 155.2 274.3 155.1 274.1 154.9 273.9 154.8 273.7 154.6 273.3 154.6 273.1 154.4 272.5 154.4 271.9 154.4 271.5 154.4 271.1 154.5 270.5 154.6 270.2 154.7 269.9 154.8 269.7 155 269.4 155.2 269.1 155.4 269 155.6 268.8 155.8 268.7 156 268.6 156.2 268.6 156.4 268.5 156.6 268.5 156.8 268.6 157 268.6 157.2 268.7 157.4 268.8 157.6 268.9 157.8 269 158 269.2 158.2 269.5 158.4 269.9 158.6 270.3 158.7 270.9 158.8 271.5 158.8 272.1 158.7 272.7 158.6 273.1 158.5 273.3 158.3 273.7 158.2 273.9 158 274.2 157.8 274.4 157.6 274.5 157.4 274.6 157.2 274.7Z" stroke="#55557e"/>
<path d="M130.6 288.3 129.6 288.4 128.6 288.4 127.4 288.4 126.4 288.3 125.6 288.2 124.8 288 124.4 287.9 124 287.8 123.4 287.5 123 287.3 122.7 287.1 122.4 286.9 122.2 286.7 122 286.5 121.9 286.3 121.8 286.1 121.7 285.9 121.6 285.7 121.5 285.3 121.5 285.1 121.5 284.7 121.6 284.5 121.6 284.3 121.7 284.1 121.8 283.9 122 283.7 122.1 283.5 122.4 283.3 122.8 283 123.1 282.9 123.4 282.8 124 282.6 124.8 282.4 125.6 282.3 126.8 282.2 128 282.1 129.2 282.1 130.4 282.2 131.6 282.3 132.6 282.5 133.4 282.7 134 282.9 134.3 283.1 134.6 283.3 134.9 283.5 135 283.7 135.2 283.9 135.3 284.1 135.4 284.3 135.4 284.5 135.5 284.7 135.5 285.1 135.5 285.5 135.4 285.7 135.2 286.1 135.1 286.3 135 286.5 134.8 286.7 134.6 286.9 134.2 287.2 133.7 287.5 133.2 287.7 132.7 287.9 132 288.1 131.4 288.2 130.6 288.3Z" stroke="#55557e"/>
<path d="M129.8 296.3 129.4 296.4 128.8 296.4 128.2 296.4 127.6 296.4 127.1 296.3 126.6 296.2 126.2 296.1 125.8 295.9 125.4 295.7 125.1 295.5 124.9 295.3 124.8 295.1 124.7 294.9 124.6 294.7 124.6 294.5 124.7 294.3 124.7 294.1 124.9 293.9 125.1 293.7 125.3 293.5 125.7 293.3 126.2 293.1 126.6 293 127.2 292.9 127.6 292.9 128.2 292.8 128.8 292.8 129.4 292.9 129.8 292.9 130.4 293 130.8 293.1 131.3 293.3 131.7 293.5 131.9 293.7 132.1 293.9 132.3 294.1 132.3 294.3 132.4 294.5 132.4 294.7 132.3 294.9 132.2 295.1 132.1 295.3 131.9 295.5 131.6 295.7 131.3 295.9 130.8 296.1 130.6 296.1 130.2 296.2 129.8 296.3Z" stroke="#55557e"/>
<path d="M128.8 260.5 128 260.5 127.4 260.5 126.8 260.4 126.2 260.3 125.4 260.1 124.9 259.9 124.6 259.8 124.2 259.5 124 259.3 123.9 259.1 123.7 258.9 123.7 258.7 123.6 258.5 123.6 258.3 123.7 258.1 123.7 257.9 123.8 257.7 124 257.5 124.1 257.3 124.4 257.1 124.7 256.9 125 256.7 125.5 256.5 126.1 256.3 126.8 256.2 127.4 256.1 128.2 256 129 256 129.8 256.1 130.6 256.2 131.2 256.4 131.5 256.5 131.8 256.6 132 256.7 132.3 256.9 132.6 257.1 132.9 257.3 133 257.5 133.2 257.8 133.3 257.9 133.3 258.1 133.4 258.3 133.4 258.5 133.3 258.7 133.3 258.9 133.2 259 133.1 259.1 133 259.3 132.8 259.5 132.6 259.6 132.4 259.8 132 260 131.6 260.1 131 260.3 130.6 260.3 130 260.4 129.4 260.5 128.8 260.5Z" stroke="#525a92"/>
<path d="M113 275.5 112.8 275.6 112.4 275.7 112.2 275.7 111.8 275.6 111.4 275.5 111.2 275.4 110.9 275.3 110.6 275.1 110.4 274.9 110.2 274.7 110 274.4 109.8 274.1 109.7 273.9 109.6 273.5 109.5 273.1 109.4 272.7 109.3 272.3 109.3 271.9 109.3 271.3 109.3 270.9 109.4 270.5 109.5 270.1 109.7 269.7 109.8 269.4 110 269 110.2 268.7 110.4 268.5 110.6 268.3 110.9 268.1 111.2 268 111.4 267.9 111.8 267.8 112.2 267.7 112.4 267.7 112.8 267.8 113 267.9 113.2 268 113.4 268.1 113.6 268.3 113.8 268.4 114 268.7 114.2 269 114.3 269.3 114.4 269.5 114.5 269.9 114.7 270.5 114.7 270.9 114.8 271.3 114.8 271.7 114.8 272.1 114.7 272.5 114.7 272.9 114.6 273.3 114.5 273.7 114.4 274 114.2 274.4 114 274.7 113.8 274.9 113.6 275.1 113.4 275.3 113.2 275.4 113 275.5Z" stroke="#525a92"/>
<path d="M145.6 275.5 145.4 275.6 145 275.7 144.6 275.7 144.4 275.6 144 275.5 143.8 275.4 143.6 275.3 143.4 275.1 143.2 275 143 274.7 142.8 274.3 142.6 274 142.5 273.7 142.4 273.3 142.3 272.9 142.3 272.5 142.2 272.1 142.2 271.5 142.2 271.1 142.3 270.5 142.4 270.1 142.6 269.4 142.8 269 143 268.7 143.2 268.4 143.4 268.3 143.6 268.1 143.8 268 144 267.9 144.4 267.8 144.8 267.7 145 267.7 145.4 267.8 145.7 267.9 146 268.1 146.2 268.2 146.4 268.3 146.6 268.5 146.8 268.7 147 269 147.2 269.3 147.3 269.5 147.4 269.9 147.5 270.3 147.6 270.7 147.7 271.1 147.7 271.5 147.7 271.9 147.7 272.3 147.6 272.7 147.5 273.1 147.4 273.5 147.3 273.7 147.2 274 147 274.4 146.8 274.7 146.6 274.9 146.4 275.1 146.2 275.2 146 275.3 145.6 275.5Z" stroke="#525a92"/>
<path d="M129.6 287.3 129 287.4 128.4 287.4 127.8 287.3 127.2 287.3 126.6 287.2 126 287.1 125.5 286.9 125 286.7 124.7 286.5 124.4 286.3 124.1 286.1 124 285.9 123.8 285.7 123.7 285.5 123.7 285.3 123.6 285.1 123.6 284.9 123.7 284.7 123.7 284.5 123.9 284.3 124 284.1 124.2 283.9 124.6 283.6 124.9 283.5 125.2 283.4 125.4 283.3 125.8 283.2 126.4 283.1 127.2 283 128 282.9 128.8 282.9 129.6 282.9 130.4 283 131 283.1 131.6 283.3 132.1 283.5 132.4 283.6 132.6 283.8 132.8 283.9 133 284.1 133.1 284.3 133.3 284.5 133.3 284.7 133.4 284.9 133.4 285.1 133.3 285.3 133.3 285.5 133.2 285.7 133 285.9 132.9 286.1 132.6 286.3 132.3 286.5 132 286.7 131.5 286.9 131 287.1 130.6 287.2 130 287.3 129.6 287.3Z" stroke="#525a92"/>
<path d="M128.8 259.1 128.4 259.1 128 259.1 127.6 259 127.4 258.9 127.1 258.7 126.9 258.5 126.9 258.3 127.1 258.1 127.3 257.9 127.6 257.8 127.8 257.7 128.2 257.7 128.6 257.7 128.8 257.7 129.2 257.7 129.4 257.8 129.7 257.9 129.9 258.1 130.1 258.3 130.1 258.5 129.9 258.7 129.8 258.8 129.6 258.9 129.2 259 128.8 259.1Z" stroke="#4a62a4"/>
<path d="M112.4 272.9 112.2 273 112 272.9 111.8 272.9 111.6 272.7 111.5 272.5 111.4 272.3 111.3 272.1 111.3 271.9 111.3 271.7 111.3 271.5 111.3 271.3 111.4 271.1 111.5 270.9 111.6 270.7 111.8 270.5 112 270.5 112.2 270.4 112.4 270.5 112.6 270.6 112.8 270.8 112.9 270.9 113 271.1 113 271.3 113.1 271.5 113.1 271.7 113.1 271.9 113 272.1 113 272.3 112.9 272.5 112.7 272.7 112.6 272.8 112.4 272.9Z" stroke="#4a62a4"/>
<path d="M145 272.9 144.8 273 144.6 272.9 144.4 272.8 144.3 272.7 144.1 272.5 144 272.3 144 272.1 143.9 271.9 143.9 271.7 143.9 271.5 144 271.3 144 271.1 144.1 270.9 144.2 270.8 144.4 270.6 144.6 270.5 144.8 270.4 145 270.5 145.1 270.5 145.2 270.5 145.4 270.7 145.5 270.9 145.6 271.1 145.7 271.3 145.7 271.5 145.7 271.7 145.7 271.9 145.7 272.1 145.6 272.3 145.5 272.5 145.4 272.7 145.2 272.9 145 272.9Z" stroke="#4a62a4"/>
<path d="M129 285.7 128.6 285.7 128.2 285.7 127.8 285.7 127.4 285.5 127.2 285.4 127.1 285.3 126.9 285.1 126.9 284.9 127.1 284.7 127.4 284.5 127.8 284.4 128.2 284.3 128.4 284.3 128.8 284.3 129.2 284.4 129.6 284.5 129.9 284.7 130.1 284.9 130.1 285.1 129.9 285.3 129.8 285.4 129.6 285.5 129.2 285.7 129 285.7Z" stroke="#4a62a4"/>
</g>
</g>
<rect x="50" y="208.3" width="156.8" height="127.9" fill="none" stroke="#8a8a8a" stroke-width="1.2"/>
<path d="M50 336.2v-1.6M50 208.3v1.6M128.4 336.2v-1.6M128.4 208.3v1.6M206.8 336.2v-1.6M206.8 208.3v1.6M50 220.7h1.6M206.8 220.7h-1.6M50 246.2h1.6M206.8 246.2h-1.6M50 271.7h1.6M206.8 271.7h-1.6M50 297.2h1.6M206.8 297.2h-1.6M50 322.7h1.6M206.8 322.7h-1.6" stroke="#8a8a8a" stroke-width="1" fill="none"/>
<g font-size="12.6" fill="#1a1a1a" class="t">
<path d="M763 0H583V1147C540 1106 483 1064 413 1023C343 982 280 951 223 930V1104C324 1151 412 1209 487 1276C562 1343 616 1408 647 1472H763Z" transform="translate(35.98 349.2) scale(0.006152 -0.006152)"/>
<text x="42.99" y="349.2">000</text>
<path d="M763 0H583V1147C540 1106 483 1064 413 1023C343 982 280 951 223 930V1104C324 1151 412 1209 487 1276C562 1343 616 1408 647 1472H763Z" transform="translate(114.38 349.2) scale(0.006152 -0.006152)"/>
<text x="121.39" y="349.2">200</text>
<path d="M763 0H583V1147C540 1106 483 1064 413 1023C343 982 280 951 223 930V1104C324 1151 412 1209 487 1276C562 1343 616 1408 647 1472H763Z" transform="translate(192.78 349.2) scale(0.006152 -0.006152)"/>
<text x="199.79" y="349.2">400</text>
</g>
<g font-size="12.6" fill="#1a1a1a" class="t">
<path d="M763 0H583V1147C540 1106 483 1064 413 1023C343 982 280 951 223 930V1104C324 1151 412 1209 487 1276C562 1343 616 1408 647 1472H763Z" transform="translate(19.77 225.2) scale(0.006152 -0.006152)"/>
<text x="26.78" y="225.2">400</text>
<path d="M763 0H583V1147C540 1106 483 1064 413 1023C343 982 280 951 223 930V1104C324 1151 412 1209 487 1276C562 1343 616 1408 647 1472H763Z" transform="translate(19.77 250.7) scale(0.006152 -0.006152)"/>
<text x="26.78" y="250.7">300</text>
<path d="M763 0H583V1147C540 1106 483 1064 413 1023C343 982 280 951 223 930V1104C324 1151 412 1209 487 1276C562 1343 616 1408 647 1472H763Z" transform="translate(19.77 276.2) scale(0.006152 -0.006152)"/>
<text x="26.78" y="276.2">200</text>
<path d="M763 0H583V1147C540 1106 483 1064 413 1023C343 982 280 951 223 930V1104C324 1151 412 1209 487 1276C562 1343 616 1408 647 1472H763Z" transform="translate(19.77 301.7) scale(0.006152 -0.006152)"/>
<path d="M763 0H583V1147C540 1106 483 1064 413 1023C343 982 280 951 223 930V1104C324 1151 412 1209 487 1276C562 1343 616 1408 647 1472H763Z" transform="translate(26.78 301.7) scale(0.006152 -0.006152)"/>
<text x="33.78" y="301.7">00</text>
<path d="M763 0H583V1147C540 1106 483 1064 413 1023C343 982 280 951 223 930V1104C324 1151 412 1209 487 1276C562 1343 616 1408 647 1472H763Z" transform="translate(19.77 327.2) scale(0.006152 -0.006152)"/>
<text x="26.78" y="327.2">000</text>
</g>
<text x="128" y="362.1" font-size="12.8" fill="#1a1a1a" text-anchor="middle" class="t">Azimuth samples</text>
<text transform="translate(14.2 271.7) rotate(-90)" font-size="13" fill="#1a1a1a" text-anchor="middle" class="t">Range samples</text>
<clipPath id="cb"><rect x="258.2" y="12.8" width="177" height="135.4"/></clipPath>
<path d="M256.20 156.38 256.90 151.04 257.60 147.54 258.00 146.19 258.40 145.25 258.80 144.70 259.00 144.55 259.30 144.52 259.60 144.68 259.80 144.91 260.20 145.66 260.60 146.81 261.00 148.43 261.70 152.59 262.40 159.12 262.50 159.38 265.90 159.38 266.80 150.77 267.20 147.99 267.60 145.80 268.10 143.76 268.60 142.39 269.10 141.63 269.30 141.49 269.60 141.44 269.90 141.61 270.10 141.83 270.60 142.82 271.10 144.47 271.50 146.34 271.90 148.78 272.30 151.94 273.00 159.38 276.00 159.38 276.40 154.08 276.80 149.86 277.20 146.55 277.70 143.36 278.20 141.02 278.80 139.13 279.30 138.24 279.60 137.98 279.90 137.93 280.20 138.08 280.50 138.45 281.00 139.55 281.50 141.33 282.00 143.92 282.40 146.70 282.80 150.29 283.50 159.38 286.00 159.38 286.10 158.93 286.50 152.62 286.90 147.84 287.30 144.10 287.80 140.51 288.40 137.39 289.00 135.33 289.30 134.63 289.60 134.16 289.90 133.89 290.20 133.82 290.50 133.96 290.80 134.32 291.10 134.89 291.40 135.69 292.00 138.08 292.50 141.02 292.90 144.17 293.30 148.28 293.70 153.75 294.00 159.23 294.10 159.38 296.10 159.38 296.90 146.56 297.40 141.11 297.90 137.06 298.50 133.50 299.10 131.07 299.40 130.21 299.80 129.41 300.10 129.05 300.30 128.92 300.50 128.88 300.70 128.94 300.90 129.09 301.20 129.49 301.50 130.12 301.80 130.98 302.40 133.51 302.90 136.62 303.40 140.95 303.80 145.66 304.20 152.10 304.50 158.80 304.60 159.38 306.20 159.38 306.60 150.28 307.00 143.47 307.50 137.26 308.00 132.67 308.70 128.07 309.40 125.05 309.70 124.15 310.10 123.30 310.50 122.81 310.70 122.71 310.90 122.69 311.20 122.84 311.50 123.20 311.80 123.79 312.10 124.61 312.60 126.57 313.10 129.41 313.70 134.38 314.20 140.46 314.60 147.48 315.00 158.23 315.10 159.38 316.30 159.38 316.60 149.70 317.00 140.87 317.50 133.19 318.10 126.70 318.80 121.42 319.20 119.19 319.60 117.44 320.00 116.11 320.40 115.16 320.60 114.82 320.90 114.48 321.10 114.37 321.30 114.35 321.50 114.42 321.70 114.58 322.00 115.01 322.40 115.95 322.70 116.95 323.30 119.85 323.90 124.32 324.50 131.22 324.90 138.16 325.20 145.67 325.60 159.38 326.30 159.38 326.40 158.37 326.70 145.17 327.10 134.25 327.60 125.17 328.20 117.61 328.60 113.80 329.00 110.69 329.40 108.14 329.90 105.62 330.30 104.06 330.80 102.64 331.30 101.78 331.60 101.52 331.80 101.46 332.00 101.49 332.20 101.62 332.60 102.17 333.00 103.15 333.40 104.63 333.80 106.71 334.10 108.77 334.70 114.66 335.20 122.57 335.60 133.03 335.80 141.34 336.10 159.38 336.40 159.38 336.80 134.48 337.30 117.44 337.70 108.77 338.10 102.14 338.60 95.58 339.20 89.33 339.90 83.53 340.70 78.28 341.60 73.66 342.50 70.09 343.50 67.15 344.00 66.03 344.50 65.12 345.00 64.42 345.50 63.92 346.00 63.62 346.60 63.50 347.20 63.66 347.70 64.01 348.30 64.68 348.80 65.46 349.30 66.45 349.80 67.66 350.80 70.81 351.70 74.58 352.60 79.48 353.30 84.28 354.00 90.27 354.50 95.58 355.00 102.14 355.40 108.77 355.80 117.44 356.30 134.48 356.70 159.38 357.00 159.38 357.30 141.34 357.50 133.03 357.90 122.57 358.40 114.66 359.00 108.77 359.30 106.71 359.70 104.63 360.10 103.15 360.50 102.17 360.90 101.62 361.10 101.49 361.30 101.46 361.50 101.52 361.80 101.78 362.30 102.64 362.80 104.06 363.20 105.62 363.70 108.14 364.10 110.69 364.50 113.80 364.90 117.61 365.50 125.17 366.00 134.25 366.40 145.17 366.70 158.37 366.80 159.38 367.50 159.38 367.90 145.67 368.20 138.16 368.60 131.22 369.20 124.32 369.80 119.85 370.40 116.95 370.70 115.95 371.10 115.01 371.40 114.58 371.60 114.42 371.80 114.35 372.00 114.37 372.20 114.48 372.50 114.82 372.70 115.16 373.10 116.11 373.50 117.44 373.90 119.19 374.30 121.42 375.00 126.70 375.60 133.19 376.10 140.87 376.50 149.70 376.80 159.38 378.00 159.38 378.10 158.23 378.50 147.48 378.90 140.46 379.40 134.38 380.00 129.41 380.50 126.57 381.10 124.31 381.40 123.57 381.70 123.06 382.00 122.77 382.30 122.69 382.50 122.75 382.70 122.90 383.10 123.48 383.50 124.43 383.80 125.40 384.50 128.62 385.10 132.67 385.60 137.26 386.10 143.47 386.50 150.28 386.90 159.38 388.50 159.38 388.60 158.80 388.90 152.10 389.30 145.66 389.70 140.95 390.20 136.62 390.70 133.51 391.30 130.98 391.60 130.12 391.90 129.49 392.20 129.09 392.40 128.94 392.60 128.88 392.80 128.92 393.00 129.05 393.30 129.41 393.70 130.21 394.00 131.07 394.60 133.50 395.20 137.06 395.70 141.11 396.20 146.56 397.00 159.38 399.00 159.38 399.10 159.23 399.40 153.75 399.80 148.28 400.20 144.17 400.60 141.02 401.10 138.08 401.70 135.69 402.00 134.89 402.30 134.32 402.60 133.96 402.90 133.82 403.20 133.89 403.50 134.16 403.80 134.63 404.10 135.33 404.70 137.39 405.30 140.51 405.80 144.10 406.20 147.84 406.60 152.62 407.00 158.93 407.10 159.38 409.60 159.38 410.30 150.29 410.70 146.70 411.20 143.33 411.70 140.92 412.20 139.28 412.70 138.30 413.00 138.01 413.30 137.92 413.60 138.04 413.90 138.37 414.40 139.38 415.00 141.43 415.50 143.93 416.00 147.31 416.40 150.82 417.10 159.38 420.10 159.38 420.90 151.07 421.30 148.11 421.70 145.82 422.10 144.08 422.60 142.57 423.10 141.71 423.30 141.53 423.60 141.43 423.90 141.55 424.10 141.74 424.60 142.62 425.10 144.11 425.60 146.30 426.00 148.62 426.40 151.57 427.20 159.38 430.60 159.38 430.70 159.12 431.40 152.59 432.10 148.43 432.50 146.81 432.90 145.66 433.30 144.91 433.50 144.68 433.80 144.52 434.10 144.55 434.30 144.70 434.70 145.25 435.20 146.49 435.60 147.95 436.00 149.88 436.40 152.35 437.10 158.37" fill="none" stroke="#303072" stroke-width="1.12" stroke-linejoin="round" clip-path="url(#cb)"/>
<rect x="258.2" y="12.8" width="177" height="135.4" fill="none" stroke="#8a8a8a" stroke-width="1.2"/>
<path d="M278.6 148.2v-1.6M278.6 12.8v1.6M312.7 148.2v-1.6M312.7 12.8v1.6M346.7 148.2v-1.6M346.7 12.8v1.6M380.7 148.2v-1.6M380.7 12.8v1.6M414.8 148.2v-1.6M414.8 12.8v1.6M258.2 35.3h1.6M435.2 35.3h-1.6M258.2 63.5h1.6M435.2 63.5h-1.6M258.2 91.7h1.6M435.2 91.7h-1.6M258.2 119.9h1.6M435.2 119.9h-1.6" stroke="#8a8a8a" stroke-width="1" fill="none"/>
<g font-size="8.8" fill="#1a1a1a" class="t">
<text x="271.66" y="157.8">-</text>
<path d="M763 0H583V1147C540 1106 483 1064 413 1023C343 982 280 951 223 930V1104C324 1151 412 1209 487 1276C562 1343 616 1408 647 1472H763Z" transform="translate(274.59 157.8) scale(0.004297 -0.004297)"/>
<text x="279.49" y="157.8">0</text>
<text x="308.15" y="157.8">-5</text>
<text x="344.25" y="157.8">0</text>
<text x="378.29" y="157.8">5</text>
<path d="M763 0H583V1147C540 1106 483 1064 413 1023C343 982 280 951 223 930V1104C324 1151 412 1209 487 1276C562 1343 616 1408 647 1472H763Z" transform="translate(409.88 157.8) scale(0.004297 -0.004297)"/>
<text x="414.78" y="157.8">0</text>
</g>
<g font-size="8.8" fill="#1a1a1a" class="t">
<path d="M763 0H583V1147C540 1106 483 1064 413 1023C343 982 280 951 223 930V1104C324 1151 412 1209 487 1276C562 1343 616 1408 647 1472H763Z" transform="translate(246.21 38.6) scale(0.004297 -0.004297)"/>
<text x="251.11" y="38.6">0</text>
<text x="251.11" y="66.8">0</text>
<text x="243.28" y="95">-</text>
<path d="M763 0H583V1147C540 1106 483 1064 413 1023C343 982 280 951 223 930V1104C324 1151 412 1209 487 1276C562 1343 616 1408 647 1472H763Z" transform="translate(246.21 95) scale(0.004297 -0.004297)"/>
<text x="251.11" y="95">0</text>
<text x="243.28" y="123.2">-20</text>
<text x="243.28" y="151.4">-30</text>
</g>
<text x="345.9" y="167.7" font-size="8.8" fill="#1a1a1a" text-anchor="middle" class="t">Range samples</text>
<text transform="translate(238.6 80.6) rotate(-90)" font-size="8.7" fill="#1a1a1a" text-anchor="middle" class="t">Magnitude (dB)</text>
<clipPath id="ce"><rect x="258.2" y="208.3" width="177" height="135.4"/></clipPath>
<path d="M256.20 351.88 256.90 346.54 257.60 343.04 258.00 341.69 258.40 340.75 258.80 340.20 259.00 340.05 259.30 340.02 259.60 340.18 259.80 340.41 260.20 341.16 260.60 342.31 261.00 343.93 261.70 348.09 262.40 354.62 262.50 354.88 265.90 354.88 266.80 346.27 267.20 343.49 267.60 341.30 268.10 339.26 268.60 337.89 269.10 337.13 269.30 336.99 269.60 336.94 269.90 337.11 270.10 337.33 270.60 338.32 271.10 339.97 271.50 341.84 271.90 344.28 272.30 347.44 273.00 354.88 276.00 354.88 276.40 349.58 276.80 345.36 277.20 342.05 277.70 338.86 278.20 336.52 278.80 334.63 279.30 333.74 279.60 333.48 279.90 333.43 280.20 333.58 280.50 333.95 281.00 335.05 281.50 336.83 282.00 339.42 282.40 342.20 282.80 345.79 283.50 354.88 286.00 354.88 286.10 354.43 286.50 348.12 286.90 343.34 287.30 339.60 287.80 336.01 288.40 332.89 289.00 330.83 289.30 330.13 289.60 329.66 289.90 329.39 290.20 329.32 290.50 329.46 290.80 329.82 291.10 330.39 291.40 331.19 292.00 333.58 292.50 336.52 292.90 339.67 293.30 343.78 293.70 349.25 294.00 354.73 294.10 354.88 296.10 354.88 296.90 342.06 297.40 336.61 297.90 332.56 298.50 329.00 299.10 326.57 299.40 325.71 299.80 324.91 300.10 324.55 300.30 324.42 300.50 324.38 300.70 324.44 300.90 324.59 301.20 324.99 301.50 325.62 301.80 326.48 302.40 329.01 302.90 332.12 303.40 336.45 303.80 341.16 304.20 347.60 304.50 354.30 304.60 354.88 306.20 354.88 306.60 345.78 307.00 338.97 307.50 332.76 308.00 328.17 308.70 323.57 309.40 320.55 309.70 319.65 310.10 318.80 310.50 318.31 310.70 318.21 310.90 318.19 311.20 318.34 311.50 318.70 311.80 319.29 312.10 320.11 312.60 322.07 313.10 324.91 313.70 329.88 314.20 335.96 314.60 342.98 315.00 353.73 315.10 354.88 316.30 354.88 316.60 345.20 317.00 336.37 317.50 328.69 318.10 322.20 318.80 316.92 319.20 314.69 319.60 312.94 320.00 311.61 320.40 310.66 320.60 310.32 320.90 309.98 321.10 309.87 321.30 309.85 321.50 309.92 321.70 310.08 322.00 310.51 322.40 311.45 322.70 312.45 323.30 315.35 323.90 319.82 324.50 326.72 324.90 333.66 325.20 341.17 325.60 354.88 326.30 354.88 326.40 353.87 326.70 340.67 327.10 329.75 327.60 320.67 328.20 313.11 328.60 309.30 329.00 306.19 329.40 303.64 329.90 301.12 330.30 299.56 330.80 298.14 331.30 297.28 331.60 297.02 331.80 296.96 332.00 296.99 332.20 297.12 332.60 297.67 333.00 298.65 333.40 300.13 333.80 302.21 334.10 304.27 334.70 310.16 335.20 318.07 335.60 328.53 335.80 336.84 336.10 354.88 336.40 354.88 336.80 329.98 337.30 312.94 337.70 304.27 338.10 297.64 338.60 291.08 339.20 284.83 339.90 279.03 340.70 273.78 341.60 269.16 342.50 265.59 343.50 262.65 344.00 261.53 344.50 260.62 345.00 259.92 345.50 259.42 346.00 259.12 346.60 259.00 347.20 259.16 347.70 259.51 348.30 260.18 348.80 260.96 349.30 261.95 349.80 263.16 350.80 266.31 351.70 270.08 352.60 274.98 353.30 279.78 354.00 285.77 354.50 291.08 355.00 297.64 355.40 304.27 355.80 312.94 356.30 329.98 356.70 354.88 357.00 354.88 357.30 336.84 357.50 328.53 357.90 318.07 358.40 310.16 359.00 304.27 359.30 302.21 359.70 300.13 360.10 298.65 360.50 297.67 360.90 297.12 361.10 296.99 361.30 296.96 361.50 297.02 361.80 297.28 362.30 298.14 362.80 299.56 363.20 301.12 363.70 303.64 364.10 306.19 364.50 309.30 364.90 313.11 365.50 320.67 366.00 329.75 366.40 340.67 366.70 353.87 366.80 354.88 367.50 354.88 367.90 341.17 368.20 333.66 368.60 326.72 369.20 319.82 369.80 315.35 370.40 312.45 370.70 311.45 371.10 310.51 371.40 310.08 371.60 309.92 371.80 309.85 372.00 309.87 372.20 309.98 372.50 310.32 372.70 310.66 373.10 311.61 373.50 312.94 373.90 314.69 374.30 316.92 375.00 322.20 375.60 328.69 376.10 336.37 376.50 345.20 376.80 354.88 378.00 354.88 378.10 353.73 378.50 342.98 378.90 335.96 379.40 329.88 380.00 324.91 380.50 322.07 381.10 319.81 381.40 319.07 381.70 318.56 382.00 318.27 382.30 318.19 382.50 318.25 382.70 318.40 383.10 318.98 383.50 319.93 383.80 320.90 384.50 324.12 385.10 328.17 385.60 332.76 386.10 338.97 386.50 345.78 386.90 354.88 388.50 354.88 388.60 354.30 388.90 347.60 389.30 341.16 389.70 336.45 390.20 332.12 390.70 329.01 391.30 326.48 391.60 325.62 391.90 324.99 392.20 324.59 392.40 324.44 392.60 324.38 392.80 324.42 393.00 324.55 393.30 324.91 393.70 325.71 394.00 326.57 394.60 329.00 395.20 332.56 395.70 336.61 396.20 342.06 397.00 354.88 399.00 354.88 399.10 354.73 399.40 349.25 399.80 343.78 400.20 339.67 400.60 336.52 401.10 333.58 401.70 331.19 402.00 330.39 402.30 329.82 402.60 329.46 402.90 329.32 403.20 329.39 403.50 329.66 403.80 330.13 404.10 330.83 404.70 332.89 405.30 336.01 405.80 339.60 406.20 343.34 406.60 348.12 407.00 354.43 407.10 354.88 409.60 354.88 410.30 345.79 410.70 342.20 411.20 338.83 411.70 336.42 412.20 334.78 412.70 333.80 413.00 333.51 413.30 333.42 413.60 333.54 413.90 333.87 414.40 334.88 415.00 336.93 415.50 339.43 416.00 342.81 416.40 346.32 417.10 354.88 420.10 354.88 420.90 346.57 421.30 343.61 421.70 341.32 422.10 339.58 422.60 338.07 423.10 337.21 423.30 337.03 423.60 336.93 423.90 337.05 424.10 337.24 424.60 338.12 425.10 339.61 425.60 341.80 426.00 344.12 426.40 347.07 427.20 354.88 430.60 354.88 430.70 354.62 431.40 348.09 432.10 343.93 432.50 342.31 432.90 341.16 433.30 340.41 433.50 340.18 433.80 340.02 434.10 340.05 434.30 340.20 434.70 340.75 435.20 341.99 435.60 343.45 436.00 345.38 436.40 347.85 437.10 353.87" fill="none" stroke="#303072" stroke-width="1.12" stroke-linejoin="round" clip-path="url(#ce)"/>
<rect x="258.2" y="208.3" width="177" height="135.4" fill="none" stroke="#8a8a8a" stroke-width="1.2"/>
<path d="M278.6 343.7v-1.6M278.6 208.3v1.6M312.7 343.7v-1.6M312.7 208.3v1.6M346.7 343.7v-1.6M346.7 208.3v1.6M380.7 343.7v-1.6M380.7 208.3v1.6M414.8 343.7v-1.6M414.8 208.3v1.6M258.2 230.8h1.6M435.2 230.8h-1.6M258.2 259h1.6M435.2 259h-1.6M258.2 287.2h1.6M435.2 287.2h-1.6M258.2 315.4h1.6M435.2 315.4h-1.6" stroke="#8a8a8a" stroke-width="1" fill="none"/>
<g font-size="8.8" fill="#1a1a1a" class="t">
<text x="271.66" y="353.3">-</text>
<path d="M763 0H583V1147C540 1106 483 1064 413 1023C343 982 280 951 223 930V1104C324 1151 412 1209 487 1276C562 1343 616 1408 647 1472H763Z" transform="translate(274.59 353.3) scale(0.004297 -0.004297)"/>
<text x="279.49" y="353.3">0</text>
<text x="308.15" y="353.3">-5</text>
<text x="344.25" y="353.3">0</text>
<text x="378.29" y="353.3">5</text>
<path d="M763 0H583V1147C540 1106 483 1064 413 1023C343 982 280 951 223 930V1104C324 1151 412 1209 487 1276C562 1343 616 1408 647 1472H763Z" transform="translate(409.88 353.3) scale(0.004297 -0.004297)"/>
<text x="414.78" y="353.3">0</text>
</g>
<g font-size="8.8" fill="#1a1a1a" class="t">
<path d="M763 0H583V1147C540 1106 483 1064 413 1023C343 982 280 951 223 930V1104C324 1151 412 1209 487 1276C562 1343 616 1408 647 1472H763Z" transform="translate(246.21 234.1) scale(0.004297 -0.004297)"/>
<text x="251.11" y="234.1">0</text>
<text x="251.11" y="262.3">0</text>
<text x="243.28" y="290.5">-</text>
<path d="M763 0H583V1147C540 1106 483 1064 413 1023C343 982 280 951 223 930V1104C324 1151 412 1209 487 1276C562 1343 616 1408 647 1472H763Z" transform="translate(246.21 290.5) scale(0.004297 -0.004297)"/>
<text x="251.11" y="290.5">0</text>
<text x="243.28" y="318.7">-20</text>
<text x="243.28" y="346.9">-30</text>
</g>
<text x="345.9" y="363.2" font-size="8.8" fill="#1a1a1a" text-anchor="middle" class="t">Range samples</text>
<text transform="translate(238.6 276.1) rotate(-90)" font-size="8.7" fill="#1a1a1a" text-anchor="middle" class="t">Magnitude (dB)</text>
<clipPath id="cc"><rect x="486.4" y="12.8" width="177.2" height="135.4"/></clipPath>
<path d="M492.61 159.38 493.81 159.38 494.41 153.07 495.01 148.92 495.31 147.51 495.71 146.20 496.01 145.61 496.21 145.40 496.41 145.33 496.61 145.41 496.81 145.62 497.11 146.23 497.51 147.58 497.81 149.06 498.31 152.56 498.91 159.09 499.01 159.38 501.81 159.38 501.91 159.24 502.51 151.92 503.11 147.25 503.51 145.17 503.91 143.77 504.31 142.97 504.51 142.79 504.71 142.75 504.91 142.85 505.11 143.10 505.51 144.04 505.91 145.64 506.21 147.32 506.81 152.24 507.41 159.38 509.91 159.38 510.01 158.89 510.61 150.63 510.91 147.72 511.31 144.71 511.71 142.52 512.11 141.02 512.51 140.13 512.71 139.90 512.91 139.82 513.11 139.87 513.31 140.07 513.71 140.92 514.11 142.41 514.51 144.64 514.91 147.75 515.21 150.84 515.81 159.38 518.01 159.38 518.11 158.50 518.71 149.12 519.01 145.85 519.41 142.47 519.81 139.97 520.31 137.85 520.71 136.86 520.91 136.59 521.21 136.44 521.51 136.62 521.71 136.92 522.11 137.97 522.51 139.70 522.91 142.21 523.31 145.70 523.61 149.17 524.21 159.38 526.11 159.38 526.81 147.30 527.21 142.56 527.61 139.02 528.01 136.39 528.51 134.13 528.71 133.51 529.01 132.86 529.21 132.60 529.51 132.48 529.81 132.69 530.01 133.01 530.41 134.11 530.91 136.45 531.31 139.27 531.71 143.17 532.01 147.07 532.31 152.17 532.61 159.14 532.71 159.38 534.21 159.38 534.81 146.64 535.21 140.85 535.61 136.57 536.11 132.68 536.61 130.04 537.11 128.42 537.41 127.90 537.71 127.69 538.01 127.80 538.31 128.25 538.81 129.76 539.31 132.41 539.71 135.54 540.11 139.89 540.41 144.30 540.71 150.17 541.01 158.53 541.11 159.38 542.31 159.38 542.91 143.84 543.31 137.24 543.71 132.39 544.21 127.98 544.81 124.43 545.11 123.23 545.41 122.38 545.71 121.85 546.01 121.64 546.31 121.75 546.51 122.00 546.81 122.67 547.01 123.32 547.51 125.73 547.91 128.65 548.41 134.00 548.81 140.37 549.11 147.24 549.41 157.57 549.51 159.38 550.41 159.38 550.71 147.91 551.01 139.81 551.41 132.18 551.91 125.49 552.51 120.01 553.11 116.41 553.41 115.18 553.71 114.29 554.01 113.71 554.21 113.50 554.41 113.44 554.71 113.60 555.01 114.10 555.51 115.75 556.01 118.62 556.51 123.13 556.91 128.50 557.31 136.54 557.61 145.96 557.91 159.38 558.51 159.38 558.81 143.20 559.11 133.24 559.51 124.24 560.01 116.47 560.61 110.03 561.31 105.04 561.71 103.10 562.11 101.75 562.51 100.95 562.71 100.75 562.91 100.70 563.11 100.78 563.31 101.01 563.61 101.66 563.91 102.70 564.21 104.20 564.71 107.98 565.21 114.14 565.61 122.16 565.91 131.96 566.11 142.70 566.31 159.38 566.51 159.38 566.61 159.09 566.91 132.66 567.31 116.42 567.91 102.26 568.31 95.67 568.81 89.16 569.41 83.03 570.01 78.18 570.71 73.70 571.41 70.21 572.21 67.24 573.01 65.18 573.41 64.47 573.81 63.95 574.21 63.63 574.71 63.50 575.21 63.68 575.61 64.04 576.01 64.60 576.41 65.35 577.21 67.49 578.01 70.55 578.71 74.11 579.41 78.68 580.01 83.63 580.61 89.86 581.11 96.48 581.51 103.19 582.11 117.71 582.51 134.62 582.81 159.38 583.11 159.38 583.31 141.62 583.51 131.54 583.81 122.16 584.21 114.41 584.71 108.43 585.21 104.77 585.51 103.34 585.81 102.35 586.11 101.76 586.31 101.56 586.51 101.50 586.71 101.59 586.91 101.82 587.31 102.68 587.71 104.10 588.11 106.09 588.81 111.22 589.41 117.81 589.91 125.76 590.31 135.00 590.61 145.33 590.91 159.38 591.51 159.38 591.81 146.17 592.11 137.12 592.51 129.32 592.91 124.10 593.41 119.73 593.91 116.96 594.41 115.39 594.71 114.94 595.01 114.82 595.21 114.92 595.41 115.16 595.71 115.78 596.01 116.73 596.31 118.01 596.91 121.72 597.51 127.33 597.91 132.60 598.31 139.77 598.61 147.24 598.91 158.18 599.01 159.38 599.91 159.38 600.01 158.23 600.31 148.32 600.61 141.67 601.01 135.48 601.51 130.27 601.91 127.44 602.31 125.49 602.51 124.79 602.81 124.06 603.01 123.76 603.31 123.59 603.61 123.74 603.91 124.21 604.21 125.00 604.51 126.13 605.11 129.52 605.61 133.74 606.01 138.36 606.41 144.59 606.71 150.93 607.01 159.38 608.41 159.38 609.01 146.23 609.31 141.94 609.71 137.71 610.11 134.66 610.61 132.12 610.81 131.42 611.11 130.69 611.31 130.39 611.61 130.21 611.91 130.36 612.11 130.63 612.61 131.96 613.11 134.25 613.61 137.70 614.01 141.51 614.41 146.60 615.11 159.38 616.81 159.38 616.91 158.83 617.21 152.77 617.51 148.25 617.81 144.76 618.21 141.26 618.61 138.76 619.01 137.05 619.41 136.02 619.61 135.73 619.91 135.57 620.21 135.74 620.41 136.02 620.81 137.03 621.31 139.17 621.71 141.68 622.11 145.06 622.51 149.57 623.11 159.38 625.31 159.38 626.01 150.00 626.61 144.88 627.01 142.66 627.41 141.18 627.81 140.35 628.01 140.15 628.21 140.10 628.41 140.20 628.61 140.43 629.01 141.33 629.41 142.85 629.81 145.04 630.41 149.90 630.81 154.55 631.11 159.12 631.21 159.38 633.81 159.38 634.41 152.54 635.01 147.98 635.31 146.44 635.71 145.02 636.01 144.38 636.21 144.14 636.41 144.04 636.61 144.08 636.81 144.27 637.21 145.08 637.61 146.49 637.91 147.98 638.51 152.30 639.11 159.02 639.21 159.38 642.31 159.38 642.91 153.95 643.41 150.71 643.71 149.37 644.01 148.42 644.31 147.82 644.51 147.60 644.71 147.53 644.91 147.60 645.11 147.82 645.41 148.41 645.71 149.33 646.01 150.62 646.51 153.67 647.11 159.24 647.21 159.38 650.91 159.36 651.41 155.37 651.91 152.76 652.41 151.25 652.71 150.80 653.01 150.69 653.31 150.89 653.61 151.41 654.11 153.04 654.61 155.72 655.11 159.38 656.71 159.38" fill="none" stroke="#303072" stroke-width="1.12" stroke-linejoin="round" clip-path="url(#cc)"/>
<rect x="486.4" y="12.8" width="177.2" height="135.4" fill="none" stroke="#8a8a8a" stroke-width="1.2"/>
<path d="M506.8 148.2v-1.6M506.8 12.8v1.6M540.9 148.2v-1.6M540.9 12.8v1.6M575 148.2v-1.6M575 12.8v1.6M609.1 148.2v-1.6M609.1 12.8v1.6M643.2 148.2v-1.6M643.2 12.8v1.6M486.4 35.3h1.6M663.6 35.3h-1.6M486.4 63.5h1.6M663.6 63.5h-1.6M486.4 91.7h1.6M663.6 91.7h-1.6M486.4 119.9h1.6M663.6 119.9h-1.6" stroke="#8a8a8a" stroke-width="1" fill="none"/>
<g font-size="8.8" fill="#1a1a1a" class="t">
<text x="499.89" y="157.8">-</text>
<path d="M763 0H583V1147C540 1106 483 1064 413 1023C343 982 280 951 223 930V1104C324 1151 412 1209 487 1276C562 1343 616 1408 647 1472H763Z" transform="translate(502.82 157.8) scale(0.004297 -0.004297)"/>
<text x="507.71" y="157.8">0</text>
<text x="536.41" y="157.8">-5</text>
<text x="572.55" y="157.8">0</text>
<text x="606.63" y="157.8">5</text>
<path d="M763 0H583V1147C540 1106 483 1064 413 1023C343 982 280 951 223 930V1104C324 1151 412 1209 487 1276C562 1343 616 1408 647 1472H763Z" transform="translate(638.26 157.8) scale(0.004297 -0.004297)"/>
<text x="643.15" y="157.8">0</text>
</g>
<g font-size="8.8" fill="#1a1a1a" class="t">
<path d="M763 0H583V1147C540 1106 483 1064 413 1023C343 982 280 951 223 930V1104C324 1151 412 1209 487 1276C562 1343 616 1408 647 1472H763Z" transform="translate(474.41 38.6) scale(0.004297 -0.004297)"/>
<text x="479.31" y="38.6">0</text>
<text x="479.31" y="66.8">0</text>
<text x="471.48" y="95">-</text>
<path d="M763 0H583V1147C540 1106 483 1064 413 1023C343 982 280 951 223 930V1104C324 1151 412 1209 487 1276C562 1343 616 1408 647 1472H763Z" transform="translate(474.41 95) scale(0.004297 -0.004297)"/>
<text x="479.31" y="95">0</text>
<text x="471.48" y="123.2">-20</text>
<text x="471.48" y="151.4">-30</text>
</g>
<text x="574.2" y="167.7" font-size="8.8" fill="#1a1a1a" text-anchor="middle" class="t">Azimuth samples</text>
<text transform="translate(466.8 80.6) rotate(-90)" font-size="8.7" fill="#1a1a1a" text-anchor="middle" class="t">Magnitude (dB)</text>
<clipPath id="cf"><rect x="486.4" y="208.3" width="177.2" height="135.4"/></clipPath>
<path d="M492.61 354.88 493.91 354.88 494.51 349.11 495.11 345.27 495.41 343.98 495.71 343.05 496.01 342.45 496.21 342.24 496.41 342.17 496.61 342.24 496.81 342.45 497.11 343.05 497.41 344.00 497.71 345.34 498.21 348.55 498.81 354.57 498.91 354.88 501.91 354.88 502.01 354.52 502.61 347.73 503.21 343.39 503.51 341.89 503.91 340.48 504.31 339.67 504.51 339.49 504.71 339.44 504.91 339.54 505.11 339.79 505.41 340.43 505.81 341.85 506.11 343.38 506.71 347.91 507.31 354.88 510.01 354.88 510.71 346.18 511.31 341.29 511.71 339.10 512.11 337.59 512.51 336.69 512.71 336.46 512.91 336.37 513.11 336.43 513.31 336.62 513.71 337.47 514.11 338.95 514.51 341.16 514.91 344.28 515.21 347.36 515.71 354.56 515.81 354.88 518.11 354.88 518.71 345.58 519.01 342.30 519.41 338.91 519.81 336.40 520.31 334.28 520.71 333.29 520.91 333.01 521.21 332.86 521.51 333.03 521.71 333.32 522.11 334.37 522.51 336.09 522.91 338.59 523.31 342.08 523.61 345.54 524.21 354.88 526.11 354.88 526.21 354.38 526.51 348.29 526.91 342.30 527.21 338.87 527.61 335.33 528.01 332.69 528.51 330.42 528.71 329.80 529.01 329.14 529.21 328.88 529.51 328.76 529.81 328.96 530.01 329.27 530.41 330.36 530.91 332.70 531.31 335.51 531.71 339.40 532.01 343.30 532.61 354.88 534.21 354.88 534.91 341.19 535.31 335.83 535.71 331.84 536.21 328.22 536.71 325.79 537.21 324.35 537.41 324.03 537.71 323.82 538.01 323.93 538.31 324.37 538.81 325.88 539.31 328.51 539.71 331.64 540.11 335.99 540.51 342.14 541.01 354.61 541.11 354.88 542.31 354.88 542.71 344.19 543.01 338.02 543.41 331.92 543.81 327.41 544.31 323.28 544.91 320.00 545.21 318.91 545.51 318.16 545.81 317.74 546.11 317.63 546.41 317.84 546.61 318.17 547.11 319.68 547.51 321.70 547.91 324.61 548.41 329.95 548.81 336.31 549.11 343.17 549.41 353.50 549.51 354.88 550.41 354.88 550.71 343.82 551.01 335.71 551.41 328.07 551.91 321.38 552.51 315.89 553.11 312.28 553.41 311.05 553.71 310.14 554.01 309.56 554.21 309.35 554.41 309.28 554.71 309.44 555.01 309.94 555.51 311.58 556.01 314.44 556.51 318.94 556.91 324.31 557.31 332.34 557.61 341.76 557.91 354.88 558.51 354.88 558.81 338.97 559.11 329.01 559.51 320.00 560.01 312.23 560.61 305.77 561.31 300.76 561.71 298.83 562.11 297.47 562.51 296.66 562.71 296.46 562.91 296.40 563.11 296.48 563.31 296.71 563.61 297.35 563.91 298.39 564.21 299.88 564.71 303.65 565.21 309.81 565.61 317.82 565.91 327.61 566.11 338.34 566.31 354.88 566.51 354.88 566.61 354.72 566.91 328.29 567.31 312.05 567.91 297.88 568.31 291.28 568.81 284.76 569.41 278.63 570.01 273.76 570.71 269.26 571.41 265.77 572.21 262.78 573.01 260.71 573.41 259.99 573.81 259.47 574.21 259.14 574.71 259.00 575.21 259.16 575.61 259.50 576.01 260.04 576.41 260.78 577.21 262.88 578.01 265.91 578.71 269.45 579.41 273.99 580.01 278.91 580.61 285.12 581.11 291.71 581.51 298.41 582.11 312.90 582.51 329.80 582.81 354.88 583.11 354.88 583.31 336.76 583.51 326.67 583.81 317.28 584.21 309.51 584.71 303.52 585.21 299.84 585.51 298.39 585.81 297.40 586.11 296.79 586.31 296.58 586.51 296.52 586.71 296.60 586.91 296.82 587.31 297.67 587.71 299.06 588.11 301.04 588.81 306.14 589.41 312.70 589.91 320.63 590.31 329.86 590.61 340.17 590.91 354.88 591.51 354.88 591.81 340.96 592.11 331.90 592.51 324.09 592.91 318.86 593.41 314.46 593.91 311.67 594.41 310.09 594.71 309.62 595.01 309.49 595.21 309.58 595.41 309.81 595.71 310.42 596.01 311.35 596.31 312.62 596.91 316.31 597.51 321.90 597.91 327.14 598.31 334.30 598.61 341.76 599.01 354.88 599.91 354.88 600.31 342.76 600.61 336.10 601.01 329.90 601.51 324.67 601.91 321.83 602.31 319.86 602.51 319.15 602.81 318.40 603.01 318.10 603.31 317.92 603.61 318.06 603.91 318.51 604.21 319.29 604.51 320.41 605.11 323.77 605.61 327.97 606.01 332.57 606.41 338.79 606.71 345.12 607.01 353.92 607.11 354.88 608.31 354.88 608.41 354.12 608.71 346.04 609.01 340.32 609.31 336.02 609.71 331.77 610.11 328.71 610.61 326.14 611.11 324.69 611.31 324.38 611.61 324.20 611.91 324.33 612.21 324.79 612.71 326.28 613.21 328.77 613.71 332.46 614.11 336.53 614.41 340.47 614.81 347.45 615.11 354.78 615.21 354.88 616.81 354.88 617.11 348.34 617.41 343.37 617.71 339.56 618.11 335.75 618.51 333.01 619.01 330.73 619.41 329.68 619.61 329.39 619.91 329.22 620.21 329.37 620.41 329.65 620.91 330.98 621.41 333.31 621.81 336.00 622.21 339.62 622.51 343.11 623.21 354.88 625.21 354.88 625.81 345.74 626.11 342.35 626.51 338.94 626.91 336.50 627.31 334.83 627.71 333.82 627.91 333.55 628.21 333.41 628.51 333.59 628.71 333.89 629.11 334.92 629.51 336.58 629.91 338.95 630.31 342.16 630.61 345.26 631.21 354.09 631.31 354.88 633.61 354.88 633.71 354.73 634.21 347.68 634.51 344.66 634.91 341.62 635.21 339.92 635.61 338.32 636.01 337.36 636.21 337.11 636.41 337.01 636.61 337.04 636.81 337.22 637.21 338.01 637.61 339.41 638.01 341.47 638.41 344.32 638.71 347.09 639.31 354.88 642.11 354.88 642.71 348.37 643.31 343.94 643.61 342.45 644.01 341.08 644.31 340.46 644.51 340.24 644.71 340.16 644.91 340.22 645.11 340.43 645.41 341.01 645.81 342.30 646.11 343.71 646.71 347.81 647.41 354.88 650.61 354.88 651.11 349.94 651.71 346.00 652.01 344.70 652.31 343.79 652.61 343.22 652.81 343.02 653.01 342.97 653.21 343.06 653.41 343.30 653.71 343.92 654.01 344.88 654.31 346.21 654.91 350.13 655.41 354.88 656.71 354.88" fill="none" stroke="#303072" stroke-width="1.12" stroke-linejoin="round" clip-path="url(#cf)"/>
<rect x="486.4" y="208.3" width="177.2" height="135.4" fill="none" stroke="#8a8a8a" stroke-width="1.2"/>
<path d="M506.8 343.7v-1.6M506.8 208.3v1.6M540.9 343.7v-1.6M540.9 208.3v1.6M575 343.7v-1.6M575 208.3v1.6M609.1 343.7v-1.6M609.1 208.3v1.6M643.2 343.7v-1.6M643.2 208.3v1.6M486.4 230.8h1.6M663.6 230.8h-1.6M486.4 259h1.6M663.6 259h-1.6M486.4 287.2h1.6M663.6 287.2h-1.6M486.4 315.4h1.6M663.6 315.4h-1.6" stroke="#8a8a8a" stroke-width="1" fill="none"/>
<g font-size="8.8" fill="#1a1a1a" class="t">
<text x="499.89" y="353.3">-</text>
<path d="M763 0H583V1147C540 1106 483 1064 413 1023C343 982 280 951 223 930V1104C324 1151 412 1209 487 1276C562 1343 616 1408 647 1472H763Z" transform="translate(502.82 353.3) scale(0.004297 -0.004297)"/>
<text x="507.71" y="353.3">0</text>
<text x="536.41" y="353.3">-5</text>
<text x="572.55" y="353.3">0</text>
<text x="606.63" y="353.3">5</text>
<path d="M763 0H583V1147C540 1106 483 1064 413 1023C343 982 280 951 223 930V1104C324 1151 412 1209 487 1276C562 1343 616 1408 647 1472H763Z" transform="translate(638.26 353.3) scale(0.004297 -0.004297)"/>
<text x="643.15" y="353.3">0</text>
</g>
<g font-size="8.8" fill="#1a1a1a" class="t">
<path d="M763 0H583V1147C540 1106 483 1064 413 1023C343 982 280 951 223 930V1104C324 1151 412 1209 487 1276C562 1343 616 1408 647 1472H763Z" transform="translate(474.41 234.1) scale(0.004297 -0.004297)"/>
<text x="479.31" y="234.1">0</text>
<text x="479.31" y="262.3">0</text>
<text x="471.48" y="290.5">-</text>
<path d="M763 0H583V1147C540 1106 483 1064 413 1023C343 982 280 951 223 930V1104C324 1151 412 1209 487 1276C562 1343 616 1408 647 1472H763Z" transform="translate(474.41 290.5) scale(0.004297 -0.004297)"/>
<text x="479.31" y="290.5">0</text>
<text x="471.48" y="318.7">-20</text>
<text x="471.48" y="346.9">-30</text>
</g>
<text x="574.2" y="363.2" font-size="8.8" fill="#1a1a1a" text-anchor="middle" class="t">Azimuth samples</text>
<text transform="translate(466.8 276.1) rotate(-90)" font-size="8.7" fill="#1a1a1a" text-anchor="middle" class="t">Magnitude (dB)</text>
<text x="114.1" y="187.8" font-family="Liberation Serif" font-weight="bold" font-size="14" fill="#1a1a1a" text-anchor="middle">(a)</text>
<text x="342.2" y="187.8" font-family="Liberation Serif" font-weight="bold" font-size="14" fill="#1a1a1a" text-anchor="middle">(b)</text>
<text x="570.8" y="187.8" font-family="Liberation Serif" font-weight="bold" font-size="14" fill="#1a1a1a" text-anchor="middle">(c)</text>
<text x="114.3" y="383.1" font-family="Liberation Serif" font-weight="bold" font-size="14" fill="#1a1a1a" text-anchor="middle">(d)</text>
<text x="342.3" y="383.1" font-family="Liberation Serif" font-weight="bold" font-size="14" fill="#1a1a1a" text-anchor="middle">(e)</text>
<text x="571" y="383.1" font-family="Liberation Serif" font-weight="bold" font-size="14" fill="#1a1a1a" text-anchor="middle">(f)</text>
</svg>
</body></html>
